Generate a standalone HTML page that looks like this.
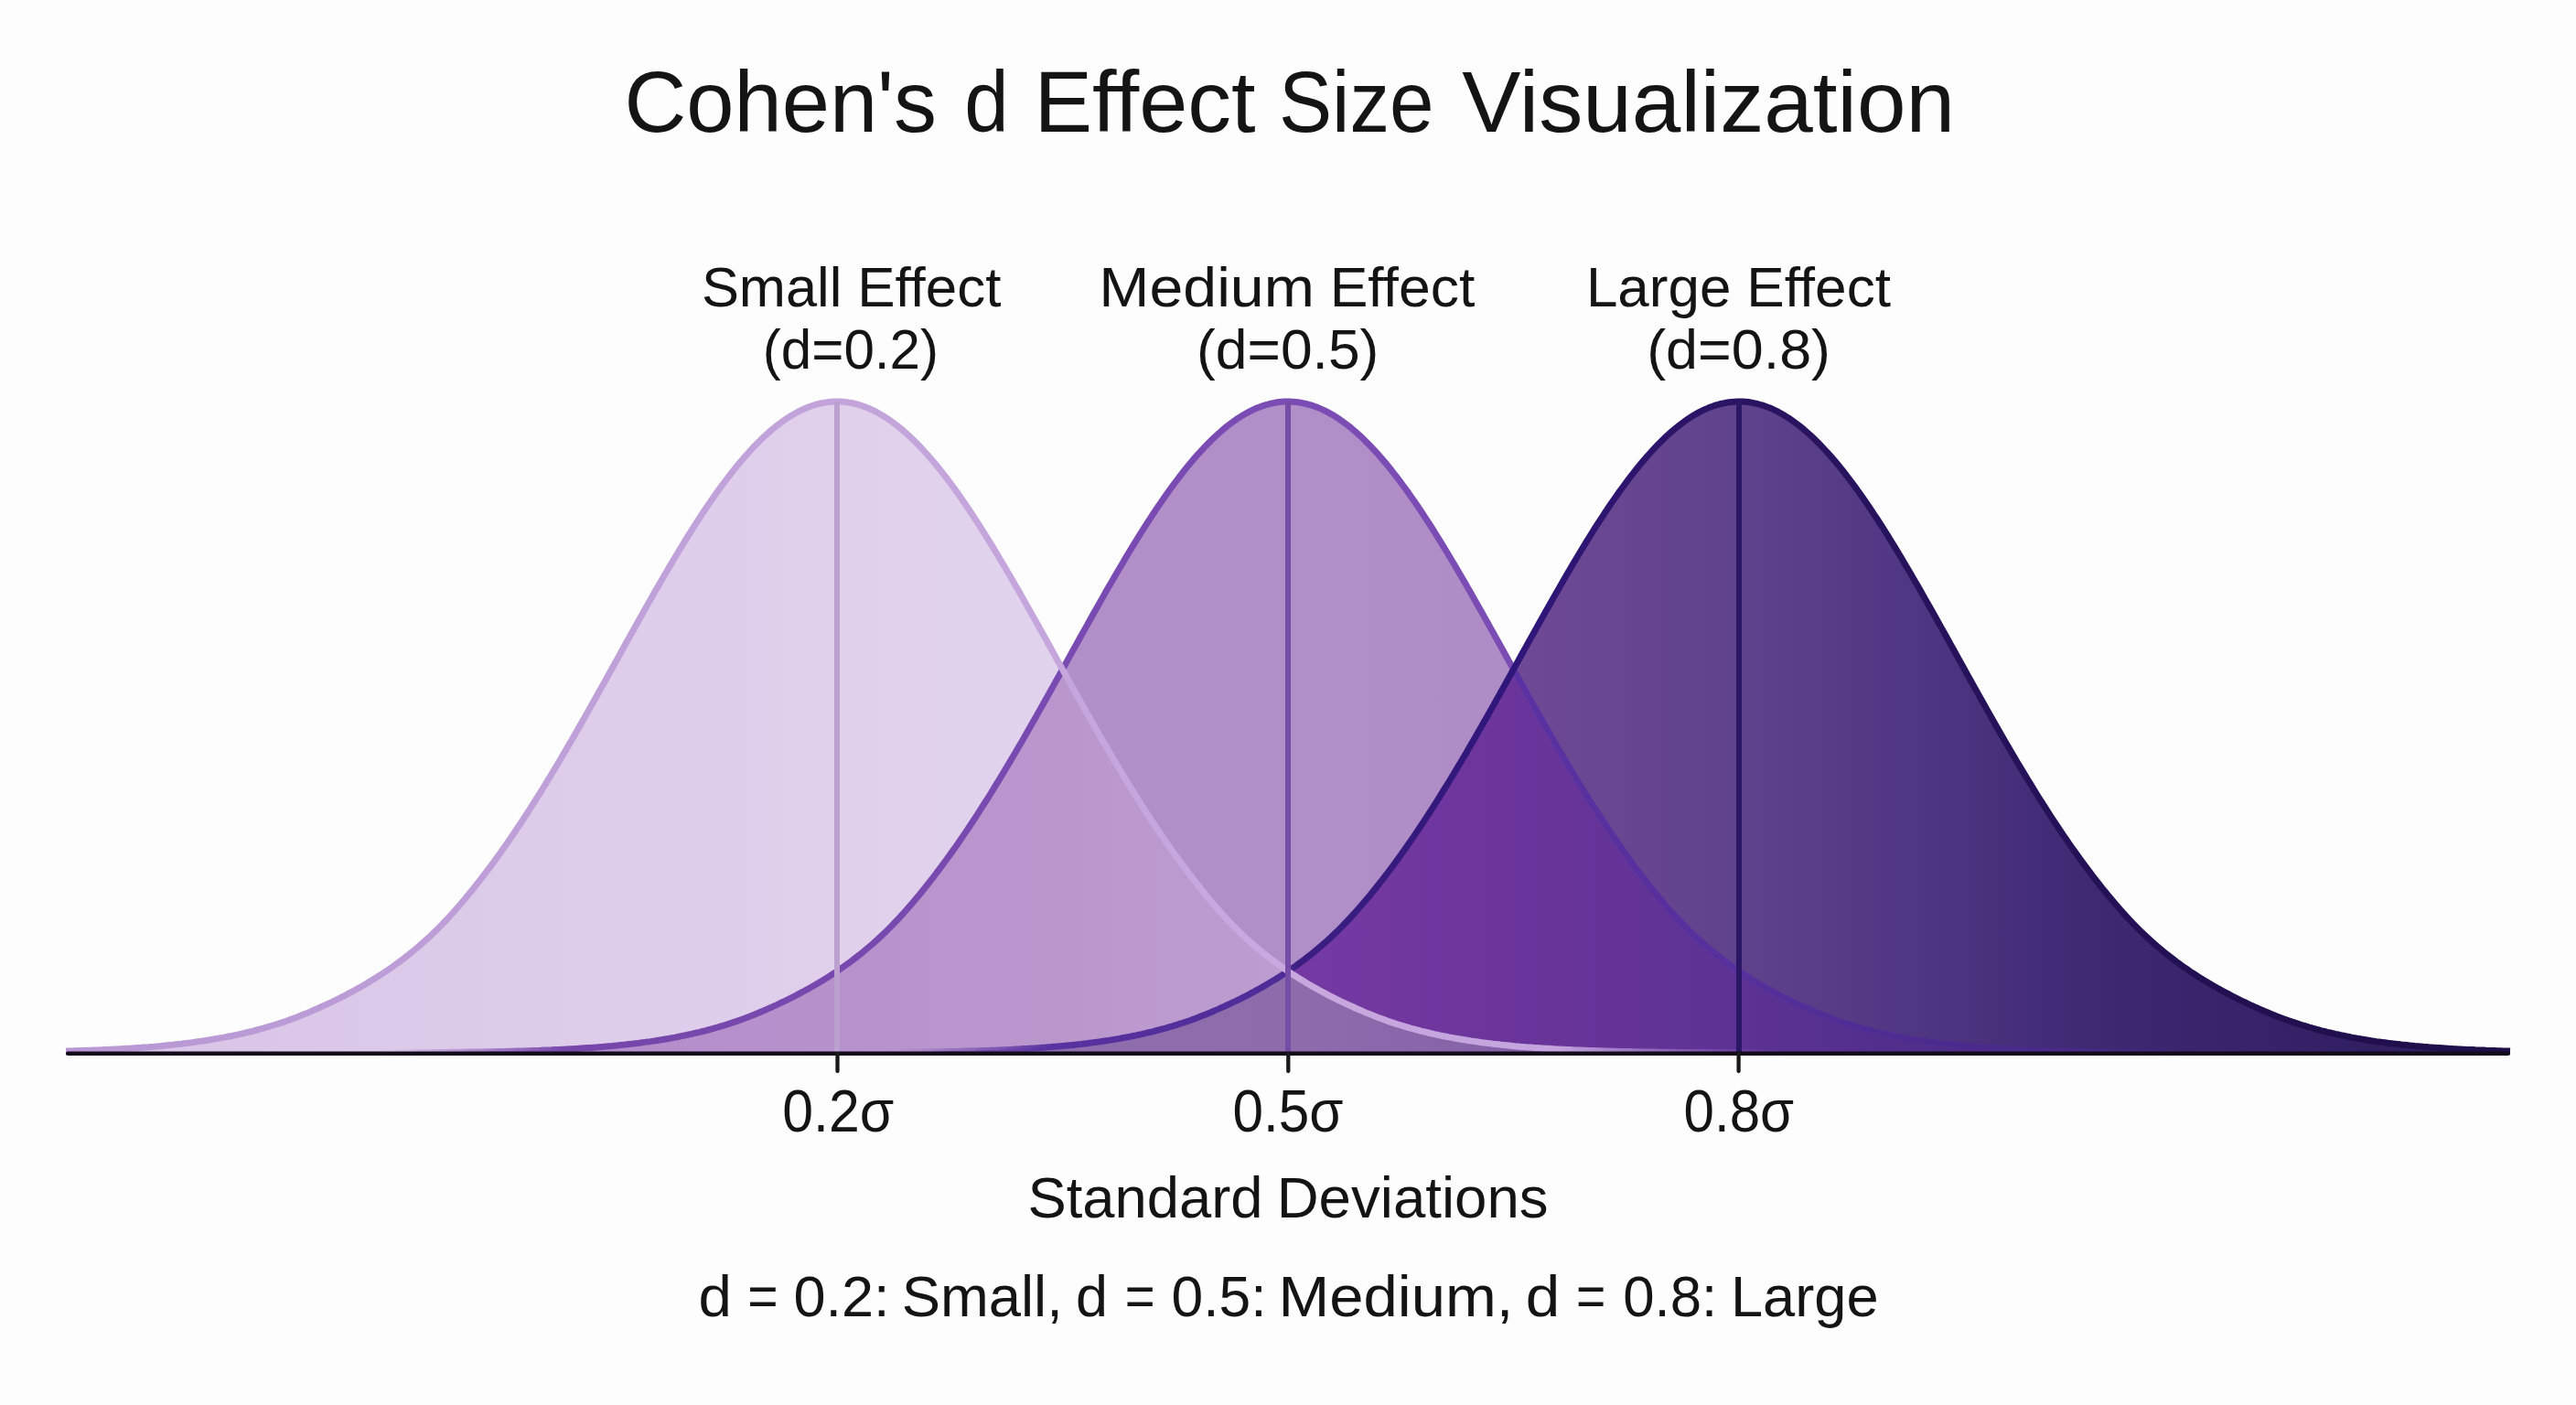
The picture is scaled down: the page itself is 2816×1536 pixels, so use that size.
<!DOCTYPE html>
<html><head><meta charset="utf-8"><title>Cohen's d Effect Size Visualization</title>
<style>html,body{margin:0;padding:0;background:#fdfdfd;overflow:hidden;}svg{display:block;}</style></head>
<body>
<svg width="2816" height="1536" viewBox="0 0 2816 1536">
<defs>
<path id="aS" d="M72.0,1149.1 75.0,1149.0 78.0,1148.9 81.0,1148.8 84.0,1148.7 87.0,1148.6 90.0,1148.5 93.0,1148.4 96.0,1148.3 99.0,1148.2 102.0,1148.1 105.0,1148.0 108.0,1147.9 111.0,1147.7 114.0,1147.6 117.0,1147.5 120.0,1147.3 123.0,1147.2 126.0,1147.0 129.0,1146.9 132.0,1146.7 135.0,1146.5 138.0,1146.3 141.0,1146.2 144.0,1146.0 147.0,1145.8 150.0,1145.6 153.0,1145.4 156.0,1145.1 159.0,1144.9 162.0,1144.7 165.0,1144.4 168.0,1144.2 171.0,1143.9 174.0,1143.7 177.0,1143.4 180.0,1143.1 183.0,1142.8 186.0,1142.5 189.0,1142.2 192.0,1141.8 195.0,1141.5 198.0,1141.2 201.0,1140.8 204.0,1140.4 207.0,1140.1 210.0,1139.7 213.0,1139.3 216.0,1138.8 219.0,1138.4 222.0,1138.0 225.0,1137.5 228.0,1137.0 231.0,1136.5 234.0,1136.0 237.0,1135.5 240.0,1135.0 243.0,1134.4 246.0,1133.9 249.0,1133.3 252.0,1132.7 255.0,1132.1 258.0,1131.5 261.0,1130.8 264.0,1130.1 267.0,1129.5 270.0,1128.7 273.0,1128.0 276.0,1127.3 279.0,1126.5 282.0,1125.7 285.0,1124.9 288.0,1124.1 291.0,1123.2 294.0,1122.3 297.0,1121.4 300.0,1120.5 303.0,1119.6 306.0,1118.6 309.0,1117.6 312.0,1116.6 315.0,1115.5 318.0,1114.4 321.0,1113.3 324.0,1112.2 327.0,1111.0 330.0,1109.8 333.0,1108.6 336.0,1107.4 339.0,1106.1 342.0,1104.8 345.0,1103.5 348.0,1102.2 351.0,1100.8 354.0,1099.5 357.0,1098.1 360.0,1096.7 363.0,1095.3 366.0,1093.8 369.0,1092.3 372.0,1090.8 375.0,1089.3 378.0,1087.8 381.0,1086.2 384.0,1084.6 387.0,1083.0 390.0,1081.3 393.0,1079.7 396.0,1077.9 399.0,1076.2 402.0,1074.4 405.0,1072.6 408.0,1070.8 411.0,1068.9 414.0,1067.0 417.0,1065.1 420.0,1063.1 423.0,1061.1 426.0,1059.1 429.0,1057.0 432.0,1054.8 435.0,1052.6 438.0,1050.4 441.0,1048.2 444.0,1045.8 447.0,1043.5 450.0,1041.1 453.0,1038.6 456.0,1036.1 459.0,1033.5 462.0,1030.9 465.0,1028.2 468.0,1025.5 471.0,1022.7 474.0,1019.8 477.0,1016.9 480.0,1013.9 483.0,1010.9 486.0,1007.8 489.0,1004.6 492.0,1001.3 495.0,998.0 498.0,994.6 501.0,991.2 504.0,987.7 507.0,984.2 510.0,980.6 513.0,976.9 516.0,973.3 519.0,969.5 522.0,965.7 525.0,961.9 528.0,958.0 531.0,954.1 534.0,950.1 537.0,946.1 540.0,942.0 543.0,937.9 546.0,933.7 549.0,929.5 552.0,925.2 555.0,920.9 558.0,916.6 561.0,912.2 564.0,907.7 567.0,903.2 570.0,898.7 573.0,894.1 576.0,889.5 579.0,884.9 582.0,880.2 585.0,875.4 588.0,870.7 591.0,865.8 594.0,861.0 597.0,856.1 600.0,851.2 603.0,846.2 606.0,841.2 609.0,836.2 612.0,831.2 615.0,826.1 618.0,821.0 621.0,815.8 624.0,810.7 627.0,805.5 630.0,800.3 633.0,795.0 636.0,789.8 639.0,784.5 642.0,779.2 645.0,773.9 648.0,768.5 651.0,763.2 654.0,757.8 657.0,752.4 660.0,747.1 663.0,741.7 666.0,736.3 669.0,730.9 672.0,725.5 675.0,720.1 678.0,714.6 681.0,709.2 684.0,703.8 687.0,698.4 690.0,693.0 693.0,687.7 696.0,682.3 699.0,676.9 702.0,671.6 705.0,666.2 708.0,660.9 711.0,655.6 714.0,650.3 717.0,645.1 720.0,639.9 723.0,634.7 726.0,629.5 729.0,624.4 732.0,619.3 735.0,614.2 738.0,609.2 741.0,604.2 744.0,599.2 747.0,594.3 750.0,589.4 753.0,584.6 756.0,579.8 759.0,575.1 762.0,570.4 765.0,565.8 768.0,561.2 771.0,556.7 774.0,552.3 777.0,547.9 780.0,543.6 783.0,539.3 786.0,535.1 789.0,531.0 792.0,527.0 795.0,523.0 798.0,519.1 801.0,515.3 804.0,511.5 807.0,507.8 810.0,504.2 813.0,500.7 816.0,497.3 819.0,494.0 822.0,490.7 825.0,487.5 828.0,484.5 831.0,481.5 834.0,478.6 837.0,475.8 840.0,473.1 843.0,470.5 846.0,467.9 849.0,465.5 852.0,463.2 855.0,461.0 858.0,458.9 861.0,456.9 864.0,455.0 867.0,453.2 870.0,451.5 873.0,449.9 876.0,448.4 879.0,447.0 882.0,445.7 885.0,444.6 888.0,443.5 891.0,442.6 894.0,441.7 897.0,441.0 900.0,440.4 903.0,439.9 906.0,439.5 909.0,439.2 912.0,439.1 915.0,439.0 918.0,439.1 921.0,439.2 924.0,439.5 927.0,439.9 930.0,440.4 933.0,441.0 936.0,441.7 939.0,442.6 942.0,443.5 945.0,444.6 948.0,445.7 951.0,447.0 954.0,448.4 957.0,449.9 960.0,451.5 963.0,453.2 966.0,455.0 969.0,456.9 972.0,458.9 975.0,461.0 978.0,463.2 981.0,465.5 984.0,467.9 987.0,470.5 990.0,473.1 993.0,475.8 996.0,478.6 999.0,481.5 1002.0,484.5 1005.0,487.5 1008.0,490.7 1011.0,494.0 1014.0,497.3 1017.0,500.7 1020.0,504.2 1023.0,507.8 1026.0,511.5 1029.0,515.3 1032.0,519.1 1035.0,523.0 1038.0,527.0 1041.0,531.0 1044.0,535.1 1047.0,539.3 1050.0,543.6 1053.0,547.9 1056.0,552.3 1059.0,556.7 1062.0,561.2 1065.0,565.8 1068.0,570.4 1071.0,575.1 1074.0,579.8 1077.0,584.6 1080.0,589.4 1083.0,594.3 1086.0,599.2 1089.0,604.2 1092.0,609.2 1095.0,614.2 1098.0,619.3 1101.0,624.4 1104.0,629.5 1107.0,634.7 1110.0,639.9 1113.0,645.1 1116.0,650.3 1119.0,655.6 1122.0,660.9 1125.0,666.2 1128.0,671.6 1131.0,676.9 1134.0,682.3 1137.0,687.7 1140.0,693.0 1143.0,698.4 1146.0,703.8 1149.0,709.2 1152.0,714.6 1155.0,720.1 1158.0,725.5 1161.0,730.9 1164.0,736.3 1167.0,741.7 1170.0,747.1 1173.0,752.4 1176.0,757.8 1179.0,763.2 1182.0,768.5 1185.0,773.9 1188.0,779.2 1191.0,784.5 1194.0,789.8 1197.0,795.0 1200.0,800.3 1203.0,805.5 1206.0,810.7 1209.0,815.8 1212.0,821.0 1215.0,826.1 1218.0,831.2 1221.0,836.2 1224.0,841.2 1227.0,846.2 1230.0,851.2 1233.0,856.1 1236.0,861.0 1239.0,865.8 1242.0,870.7 1245.0,875.4 1248.0,880.2 1251.0,884.9 1254.0,889.5 1257.0,894.1 1260.0,898.7 1263.0,903.2 1266.0,907.7 1269.0,912.2 1272.0,916.6 1275.0,920.9 1278.0,925.2 1281.0,929.5 1284.0,933.7 1287.0,937.9 1290.0,942.0 1293.0,946.1 1296.0,950.1 1299.0,954.1 1302.0,958.0 1305.0,961.9 1308.0,965.7 1311.0,969.5 1314.0,973.3 1317.0,976.9 1320.0,980.6 1323.0,984.2 1326.0,987.7 1329.0,991.2 1332.0,994.6 1335.0,998.0 1338.0,1001.3 1341.0,1004.6 1344.0,1007.8 1347.0,1010.9 1350.0,1013.9 1353.0,1016.9 1356.0,1019.8 1359.0,1022.7 1362.0,1025.5 1365.0,1028.2 1368.0,1030.9 1371.0,1033.5 1374.0,1036.1 1377.0,1038.6 1380.0,1041.1 1383.0,1043.5 1386.0,1045.8 1389.0,1048.2 1392.0,1050.4 1395.0,1052.6 1398.0,1054.8 1401.0,1057.0 1404.0,1059.1 1407.0,1061.1 1410.0,1063.1 1413.0,1065.1 1416.0,1067.0 1419.0,1068.9 1422.0,1070.8 1425.0,1072.6 1428.0,1074.4 1431.0,1076.2 1434.0,1077.9 1437.0,1079.7 1440.0,1081.3 1443.0,1083.0 1446.0,1084.6 1449.0,1086.2 1452.0,1087.8 1455.0,1089.3 1458.0,1090.8 1461.0,1092.3 1464.0,1093.8 1467.0,1095.3 1470.0,1096.7 1473.0,1098.1 1476.0,1099.5 1479.0,1100.8 1482.0,1102.2 1485.0,1103.5 1488.0,1104.8 1491.0,1106.1 1494.0,1107.4 1497.0,1108.6 1500.0,1109.8 1503.0,1111.0 1506.0,1112.2 1509.0,1113.3 1512.0,1114.4 1515.0,1115.5 1518.0,1116.6 1521.0,1117.6 1524.0,1118.6 1527.0,1119.6 1530.0,1120.5 1533.0,1121.4 1536.0,1122.3 1539.0,1123.2 1542.0,1124.1 1545.0,1124.9 1548.0,1125.7 1551.0,1126.5 1554.0,1127.3 1557.0,1128.0 1560.0,1128.7 1563.0,1129.5 1566.0,1130.1 1569.0,1130.8 1572.0,1131.5 1575.0,1132.1 1578.0,1132.7 1581.0,1133.3 1584.0,1133.9 1587.0,1134.4 1590.0,1135.0 1593.0,1135.5 1596.0,1136.0 1599.0,1136.5 1602.0,1137.0 1605.0,1137.5 1608.0,1138.0 1611.0,1138.4 1614.0,1138.8 1617.0,1139.3 1620.0,1139.7 1623.0,1140.1 1626.0,1140.4 1629.0,1140.8 1632.0,1141.2 1635.0,1141.5 1638.0,1141.8 1641.0,1142.2 1644.0,1142.5 1647.0,1142.8 1650.0,1143.1 1653.0,1143.4 1656.0,1143.7 1659.0,1143.9 1662.0,1144.2 1665.0,1144.4 1668.0,1144.7 1671.0,1144.9 1674.0,1145.1 1677.0,1145.4 1680.0,1145.6 1683.0,1145.8 1686.0,1146.0 1689.0,1146.2 1692.0,1146.3 1695.0,1146.5 1698.0,1146.7 1701.0,1146.9 1704.0,1147.0 1707.0,1147.2 1710.0,1147.3 1713.0,1147.5 1716.0,1147.6 1719.0,1147.7 1722.0,1147.9 1725.0,1148.0 1728.0,1148.1 1731.0,1148.2 1734.0,1148.3 1737.0,1148.4 1740.0,1148.5 1743.0,1148.6 1746.0,1148.7 1749.0,1148.8 1752.0,1148.9 1755.0,1149.0 1758.0,1149.1 1761.0,1149.2 1764.0,1149.2 1767.0,1149.3 1770.0,1149.4 1773.0,1149.5 1776.0,1149.5 1779.0,1149.6 1782.0,1149.6 1785.0,1149.7 1788.0,1149.8 1791.0,1149.8 1794.0,1149.9 1797.0,1149.9 1800.0,1150.0 1803.0,1150.0 1806.0,1150.0 1809.0,1150.1 1812.0,1150.1 1815.0,1150.2 1818.0,1150.2 1821.0,1150.2 1824.0,1150.3 1827.0,1150.3 1830.0,1150.3 1833.0,1150.4 1836.0,1150.4 1839.0,1150.4 1842.0,1150.4 1845.0,1150.5 1848.0,1150.5 1851.0,1150.5 1854.0,1150.5 1857.0,1150.6 1860.0,1150.6 1863.0,1150.6 1866.0,1150.6 1869.0,1150.6 1872.0,1150.7 1875.0,1150.7 1878.0,1150.7 1881.0,1150.7 1884.0,1150.7 1887.0,1150.7 1890.0,1150.7 1893.0,1150.8 1896.0,1150.8 1899.0,1150.8 1902.0,1150.8 1905.0,1150.8 1908.0,1150.8 1911.0,1150.8 1914.0,1150.8 1917.0,1150.8 1920.0,1150.8 1923.0,1150.8 1926.0,1150.9 1929.0,1150.9 1932.0,1150.9 1935.0,1150.9 1938.0,1150.9 1941.0,1150.9 1944.0,1150.9 1947.0,1150.9 1950.0,1150.9 1953.0,1150.9 1956.0,1150.9 1959.0,1150.9 1962.0,1150.9 1965.0,1150.9 1968.0,1150.9 1971.0,1150.9 1974.0,1150.9 1977.0,1150.9 1980.0,1150.9 1983.0,1150.9 1986.0,1150.9 1989.0,1151.0 1992.0,1151.0 1995.0,1151.0 1998.0,1151.0 2001.0,1151.0 2004.0,1151.0 2007.0,1151.0 2010.0,1151.0 2013.0,1151.0 2016.0,1151.0 2019.0,1151.0 2022.0,1151.0 2025.0,1151.0 2028.0,1151.0 2031.0,1151.0 2034.0,1151.0 2037.0,1151.0 2040.0,1151.0 2043.0,1151.0 2046.0,1151.0 2049.0,1151.0 2052.0,1151.0 2055.0,1151.0 2058.0,1151.0 2061.0,1151.0 2064.0,1151.0 2067.0,1151.0 2070.0,1151.0 2073.0,1151.0 2076.0,1151.0 2079.0,1151.0 2082.0,1151.0 2085.0,1151.0 2088.0,1151.0 2091.0,1151.0 2094.0,1151.0 2097.0,1151.0 2100.0,1151.0 2103.0,1151.0 2106.0,1151.0 2109.0,1151.0 2112.0,1151.0 2115.0,1151.0 2118.0,1151.0 2121.0,1151.0 2124.0,1151.0 2127.0,1151.0 2130.0,1151.0 2133.0,1151.0 2136.0,1151.0 2139.0,1151.0 2142.0,1151.0 2145.0,1151.0 2148.0,1151.0 2151.0,1151.0 2154.0,1151.0 2157.0,1151.0 2160.0,1151.0 2163.0,1151.0 2166.0,1151.0 2169.0,1151.0 2172.0,1151.0 2175.0,1151.0 2178.0,1151.0 2181.0,1151.0 2184.0,1151.0 2187.0,1151.0 2190.0,1151.0 2193.0,1151.0 2196.0,1151.0 2199.0,1151.0 2202.0,1151.0 2205.0,1151.0 2208.0,1151.0 2211.0,1151.0 2214.0,1151.0 2217.0,1151.0 2220.0,1151.0 2223.0,1151.0 2226.0,1151.0 2229.0,1151.0 2232.0,1151.0 2235.0,1151.0 2238.0,1151.0 2241.0,1151.0 2244.0,1151.0 2247.0,1151.0 2250.0,1151.0 2253.0,1151.0 2256.0,1151.0 2259.0,1151.0 2262.0,1151.0 2265.0,1151.0 2268.0,1151.0 2271.0,1151.0 2274.0,1151.0 2277.0,1151.0 2280.0,1151.0 2283.0,1151.0 2286.0,1151.0 2289.0,1151.0 2292.0,1151.0 2295.0,1151.0 2298.0,1151.0 2301.0,1151.0 2304.0,1151.0 2307.0,1151.0 2310.0,1151.0 2313.0,1151.0 2316.0,1151.0 2319.0,1151.0 2322.0,1151.0 2325.0,1151.0 2328.0,1151.0 2331.0,1151.0 2334.0,1151.0 2337.0,1151.0 2340.0,1151.0 2343.0,1151.0 2346.0,1151.0 2349.0,1151.0 2352.0,1151.0 2355.0,1151.0 2358.0,1151.0 2361.0,1151.0 2364.0,1151.0 2367.0,1151.0 2370.0,1151.0 2373.0,1151.0 2376.0,1151.0 2379.0,1151.0 2382.0,1151.0 2385.0,1151.0 2388.0,1151.0 2391.0,1151.0 2394.0,1151.0 2397.0,1151.0 2400.0,1151.0 2403.0,1151.0 2406.0,1151.0 2409.0,1151.0 2412.0,1151.0 2415.0,1151.0 2418.0,1151.0 2421.0,1151.0 2424.0,1151.0 2427.0,1151.0 2430.0,1151.0 2433.0,1151.0 2436.0,1151.0 2439.0,1151.0 2442.0,1151.0 2445.0,1151.0 2448.0,1151.0 2451.0,1151.0 2454.0,1151.0 2457.0,1151.0 2460.0,1151.0 2463.0,1151.0 2466.0,1151.0 2469.0,1151.0 2472.0,1151.0 2475.0,1151.0 2478.0,1151.0 2481.0,1151.0 2484.0,1151.0 2487.0,1151.0 2490.0,1151.0 2493.0,1151.0 2496.0,1151.0 2499.0,1151.0 2502.0,1151.0 2505.0,1151.0 2508.0,1151.0 2511.0,1151.0 2514.0,1151.0 2517.0,1151.0 2520.0,1151.0 2523.0,1151.0 2526.0,1151.0 2529.0,1151.0 2532.0,1151.0 2535.0,1151.0 2538.0,1151.0 2541.0,1151.0 2544.0,1151.0 2547.0,1151.0 2550.0,1151.0 2553.0,1151.0 2556.0,1151.0 2559.0,1151.0 2562.0,1151.0 2565.0,1151.0 2568.0,1151.0 2571.0,1151.0 2574.0,1151.0 2577.0,1151.0 2580.0,1151.0 2583.0,1151.0 2586.0,1151.0 2589.0,1151.0 2592.0,1151.0 2595.0,1151.0 2598.0,1151.0 2601.0,1151.0 2604.0,1151.0 2607.0,1151.0 2610.0,1151.0 2613.0,1151.0 2616.0,1151.0 2619.0,1151.0 2622.0,1151.0 2625.0,1151.0 2628.0,1151.0 2631.0,1151.0 2634.0,1151.0 2637.0,1151.0 2640.0,1151.0 2643.0,1151.0 2646.0,1151.0 2649.0,1151.0 2652.0,1151.0 2655.0,1151.0 2658.0,1151.0 2661.0,1151.0 2664.0,1151.0 2667.0,1151.0 2670.0,1151.0 2673.0,1151.0 2676.0,1151.0 2679.0,1151.0 2682.0,1151.0 2685.0,1151.0 2688.0,1151.0 2691.0,1151.0 2694.0,1151.0 2697.0,1151.0 2700.0,1151.0 2703.0,1151.0 2706.0,1151.0 2709.0,1151.0 2712.0,1151.0 2715.0,1151.0 2718.0,1151.0 2721.0,1151.0 2724.0,1151.0 2727.0,1151.0 2730.0,1151.0 2733.0,1151.0 2736.0,1151.0 2739.0,1151.0 2742.0,1151.0 2744.0,1151.0 L2744.0,1152 L72.0,1152 Z"/>
<path id="lS" d="M72.0,1149.1 75.0,1149.0 78.0,1148.9 81.0,1148.8 84.0,1148.7 87.0,1148.6 90.0,1148.5 93.0,1148.4 96.0,1148.3 99.0,1148.2 102.0,1148.1 105.0,1148.0 108.0,1147.9 111.0,1147.7 114.0,1147.6 117.0,1147.5 120.0,1147.3 123.0,1147.2 126.0,1147.0 129.0,1146.9 132.0,1146.7 135.0,1146.5 138.0,1146.3 141.0,1146.2 144.0,1146.0 147.0,1145.8 150.0,1145.6 153.0,1145.4 156.0,1145.1 159.0,1144.9 162.0,1144.7 165.0,1144.4 168.0,1144.2 171.0,1143.9 174.0,1143.7 177.0,1143.4 180.0,1143.1 183.0,1142.8 186.0,1142.5 189.0,1142.2 192.0,1141.8 195.0,1141.5 198.0,1141.2 201.0,1140.8 204.0,1140.4 207.0,1140.1 210.0,1139.7 213.0,1139.3 216.0,1138.8 219.0,1138.4 222.0,1138.0 225.0,1137.5 228.0,1137.0 231.0,1136.5 234.0,1136.0 237.0,1135.5 240.0,1135.0 243.0,1134.4 246.0,1133.9 249.0,1133.3 252.0,1132.7 255.0,1132.1 258.0,1131.5 261.0,1130.8 264.0,1130.1 267.0,1129.5 270.0,1128.7 273.0,1128.0 276.0,1127.3 279.0,1126.5 282.0,1125.7 285.0,1124.9 288.0,1124.1 291.0,1123.2 294.0,1122.3 297.0,1121.4 300.0,1120.5 303.0,1119.6 306.0,1118.6 309.0,1117.6 312.0,1116.6 315.0,1115.5 318.0,1114.4 321.0,1113.3 324.0,1112.2 327.0,1111.0 330.0,1109.8 333.0,1108.6 336.0,1107.4 339.0,1106.1 342.0,1104.8 345.0,1103.5 348.0,1102.2 351.0,1100.8 354.0,1099.5 357.0,1098.1 360.0,1096.7 363.0,1095.3 366.0,1093.8 369.0,1092.3 372.0,1090.8 375.0,1089.3 378.0,1087.8 381.0,1086.2 384.0,1084.6 387.0,1083.0 390.0,1081.3 393.0,1079.7 396.0,1077.9 399.0,1076.2 402.0,1074.4 405.0,1072.6 408.0,1070.8 411.0,1068.9 414.0,1067.0 417.0,1065.1 420.0,1063.1 423.0,1061.1 426.0,1059.1 429.0,1057.0 432.0,1054.8 435.0,1052.6 438.0,1050.4 441.0,1048.2 444.0,1045.8 447.0,1043.5 450.0,1041.1 453.0,1038.6 456.0,1036.1 459.0,1033.5 462.0,1030.9 465.0,1028.2 468.0,1025.5 471.0,1022.7 474.0,1019.8 477.0,1016.9 480.0,1013.9 483.0,1010.9 486.0,1007.8 489.0,1004.6 492.0,1001.3 495.0,998.0 498.0,994.6 501.0,991.2 504.0,987.7 507.0,984.2 510.0,980.6 513.0,976.9 516.0,973.3 519.0,969.5 522.0,965.7 525.0,961.9 528.0,958.0 531.0,954.1 534.0,950.1 537.0,946.1 540.0,942.0 543.0,937.9 546.0,933.7 549.0,929.5 552.0,925.2 555.0,920.9 558.0,916.6 561.0,912.2 564.0,907.7 567.0,903.2 570.0,898.7 573.0,894.1 576.0,889.5 579.0,884.9 582.0,880.2 585.0,875.4 588.0,870.7 591.0,865.8 594.0,861.0 597.0,856.1 600.0,851.2 603.0,846.2 606.0,841.2 609.0,836.2 612.0,831.2 615.0,826.1 618.0,821.0 621.0,815.8 624.0,810.7 627.0,805.5 630.0,800.3 633.0,795.0 636.0,789.8 639.0,784.5 642.0,779.2 645.0,773.9 648.0,768.5 651.0,763.2 654.0,757.8 657.0,752.4 660.0,747.1 663.0,741.7 666.0,736.3 669.0,730.9 672.0,725.5 675.0,720.1 678.0,714.6 681.0,709.2 684.0,703.8 687.0,698.4 690.0,693.0 693.0,687.7 696.0,682.3 699.0,676.9 702.0,671.6 705.0,666.2 708.0,660.9 711.0,655.6 714.0,650.3 717.0,645.1 720.0,639.9 723.0,634.7 726.0,629.5 729.0,624.4 732.0,619.3 735.0,614.2 738.0,609.2 741.0,604.2 744.0,599.2 747.0,594.3 750.0,589.4 753.0,584.6 756.0,579.8 759.0,575.1 762.0,570.4 765.0,565.8 768.0,561.2 771.0,556.7 774.0,552.3 777.0,547.9 780.0,543.6 783.0,539.3 786.0,535.1 789.0,531.0 792.0,527.0 795.0,523.0 798.0,519.1 801.0,515.3 804.0,511.5 807.0,507.8 810.0,504.2 813.0,500.7 816.0,497.3 819.0,494.0 822.0,490.7 825.0,487.5 828.0,484.5 831.0,481.5 834.0,478.6 837.0,475.8 840.0,473.1 843.0,470.5 846.0,467.9 849.0,465.5 852.0,463.2 855.0,461.0 858.0,458.9 861.0,456.9 864.0,455.0 867.0,453.2 870.0,451.5 873.0,449.9 876.0,448.4 879.0,447.0 882.0,445.7 885.0,444.6 888.0,443.5 891.0,442.6 894.0,441.7 897.0,441.0 900.0,440.4 903.0,439.9 906.0,439.5 909.0,439.2 912.0,439.1 915.0,439.0 918.0,439.1 921.0,439.2 924.0,439.5 927.0,439.9 930.0,440.4 933.0,441.0 936.0,441.7 939.0,442.6 942.0,443.5 945.0,444.6 948.0,445.7 951.0,447.0 954.0,448.4 957.0,449.9 960.0,451.5 963.0,453.2 966.0,455.0 969.0,456.9 972.0,458.9 975.0,461.0 978.0,463.2 981.0,465.5 984.0,467.9 987.0,470.5 990.0,473.1 993.0,475.8 996.0,478.6 999.0,481.5 1002.0,484.5 1005.0,487.5 1008.0,490.7 1011.0,494.0 1014.0,497.3 1017.0,500.7 1020.0,504.2 1023.0,507.8 1026.0,511.5 1029.0,515.3 1032.0,519.1 1035.0,523.0 1038.0,527.0 1041.0,531.0 1044.0,535.1 1047.0,539.3 1050.0,543.6 1053.0,547.9 1056.0,552.3 1059.0,556.7 1062.0,561.2 1065.0,565.8 1068.0,570.4 1071.0,575.1 1074.0,579.8 1077.0,584.6 1080.0,589.4 1083.0,594.3 1086.0,599.2 1089.0,604.2 1092.0,609.2 1095.0,614.2 1098.0,619.3 1101.0,624.4 1104.0,629.5 1107.0,634.7 1110.0,639.9 1113.0,645.1 1116.0,650.3 1119.0,655.6 1122.0,660.9 1125.0,666.2 1128.0,671.6 1131.0,676.9 1134.0,682.3 1137.0,687.7 1140.0,693.0 1143.0,698.4 1146.0,703.8 1149.0,709.2 1152.0,714.6 1155.0,720.1 1158.0,725.5 1161.0,730.9 1164.0,736.3 1167.0,741.7 1170.0,747.1 1173.0,752.4 1176.0,757.8 1179.0,763.2 1182.0,768.5 1185.0,773.9 1188.0,779.2 1191.0,784.5 1194.0,789.8 1197.0,795.0 1200.0,800.3 1203.0,805.5 1206.0,810.7 1209.0,815.8 1212.0,821.0 1215.0,826.1 1218.0,831.2 1221.0,836.2 1224.0,841.2 1227.0,846.2 1230.0,851.2 1233.0,856.1 1236.0,861.0 1239.0,865.8 1242.0,870.7 1245.0,875.4 1248.0,880.2 1251.0,884.9 1254.0,889.5 1257.0,894.1 1260.0,898.7 1263.0,903.2 1266.0,907.7 1269.0,912.2 1272.0,916.6 1275.0,920.9 1278.0,925.2 1281.0,929.5 1284.0,933.7 1287.0,937.9 1290.0,942.0 1293.0,946.1 1296.0,950.1 1299.0,954.1 1302.0,958.0 1305.0,961.9 1308.0,965.7 1311.0,969.5 1314.0,973.3 1317.0,976.9 1320.0,980.6 1323.0,984.2 1326.0,987.7 1329.0,991.2 1332.0,994.6 1335.0,998.0 1338.0,1001.3 1341.0,1004.6 1344.0,1007.8 1347.0,1010.9 1350.0,1013.9 1353.0,1016.9 1356.0,1019.8 1359.0,1022.7 1362.0,1025.5 1365.0,1028.2 1368.0,1030.9 1371.0,1033.5 1374.0,1036.1 1377.0,1038.6 1380.0,1041.1 1383.0,1043.5 1386.0,1045.8 1389.0,1048.2 1392.0,1050.4 1395.0,1052.6 1398.0,1054.8 1401.0,1057.0 1404.0,1059.1 1407.0,1061.1 1410.0,1063.1 1413.0,1065.1 1416.0,1067.0 1419.0,1068.9 1422.0,1070.8 1425.0,1072.6 1428.0,1074.4 1431.0,1076.2 1434.0,1077.9 1437.0,1079.7 1440.0,1081.3 1443.0,1083.0 1446.0,1084.6 1449.0,1086.2 1452.0,1087.8 1455.0,1089.3 1458.0,1090.8 1461.0,1092.3 1464.0,1093.8 1467.0,1095.3 1470.0,1096.7 1473.0,1098.1 1476.0,1099.5 1479.0,1100.8 1482.0,1102.2 1485.0,1103.5 1488.0,1104.8 1491.0,1106.1 1494.0,1107.4 1497.0,1108.6 1500.0,1109.8 1503.0,1111.0 1506.0,1112.2 1509.0,1113.3 1512.0,1114.4 1515.0,1115.5 1518.0,1116.6 1521.0,1117.6 1524.0,1118.6 1527.0,1119.6 1530.0,1120.5 1533.0,1121.4 1536.0,1122.3 1539.0,1123.2 1542.0,1124.1 1545.0,1124.9 1548.0,1125.7 1551.0,1126.5 1554.0,1127.3 1557.0,1128.0 1560.0,1128.7 1563.0,1129.5 1566.0,1130.1 1569.0,1130.8 1572.0,1131.5 1575.0,1132.1 1578.0,1132.7 1581.0,1133.3 1584.0,1133.9 1587.0,1134.4 1590.0,1135.0 1593.0,1135.5 1596.0,1136.0 1599.0,1136.5 1602.0,1137.0 1605.0,1137.5 1608.0,1138.0 1611.0,1138.4 1614.0,1138.8 1617.0,1139.3 1620.0,1139.7 1623.0,1140.1 1626.0,1140.4 1629.0,1140.8 1632.0,1141.2 1635.0,1141.5 1638.0,1141.8 1641.0,1142.2 1644.0,1142.5 1647.0,1142.8 1650.0,1143.1 1653.0,1143.4 1656.0,1143.7 1659.0,1143.9 1662.0,1144.2 1665.0,1144.4 1668.0,1144.7 1671.0,1144.9 1674.0,1145.1 1677.0,1145.4 1680.0,1145.6 1683.0,1145.8 1686.0,1146.0 1689.0,1146.2 1692.0,1146.3 1695.0,1146.5 1698.0,1146.7 1701.0,1146.9 1704.0,1147.0 1707.0,1147.2 1710.0,1147.3 1713.0,1147.5 1716.0,1147.6 1719.0,1147.7 1722.0,1147.9 1725.0,1148.0 1728.0,1148.1 1731.0,1148.2 1734.0,1148.3 1737.0,1148.4 1740.0,1148.5 1743.0,1148.6 1746.0,1148.7 1749.0,1148.8 1752.0,1148.9 1755.0,1149.0 1758.0,1149.1 1761.0,1149.2 1764.0,1149.2 1767.0,1149.3 1770.0,1149.4 1773.0,1149.5 1776.0,1149.5 1779.0,1149.6 1782.0,1149.6 1785.0,1149.7 1788.0,1149.8 1791.0,1149.8 1794.0,1149.9 1797.0,1149.9 1800.0,1150.0 1803.0,1150.0 1806.0,1150.0 1809.0,1150.1 1812.0,1150.1 1815.0,1150.2 1818.0,1150.2 1821.0,1150.2 1824.0,1150.3 1827.0,1150.3 1830.0,1150.3 1833.0,1150.4 1836.0,1150.4 1839.0,1150.4 1842.0,1150.4 1845.0,1150.5 1848.0,1150.5 1851.0,1150.5 1854.0,1150.5 1857.0,1150.6 1860.0,1150.6 1863.0,1150.6 1866.0,1150.6 1869.0,1150.6 1872.0,1150.7 1875.0,1150.7 1878.0,1150.7 1881.0,1150.7 1884.0,1150.7 1887.0,1150.7 1890.0,1150.7 1893.0,1150.8 1896.0,1150.8 1899.0,1150.8 1902.0,1150.8 1905.0,1150.8 1908.0,1150.8 1911.0,1150.8 1914.0,1150.8 1917.0,1150.8 1920.0,1150.8 1923.0,1150.8 1926.0,1150.9 1929.0,1150.9 1932.0,1150.9 1935.0,1150.9 1938.0,1150.9 1941.0,1150.9 1944.0,1150.9 1947.0,1150.9 1950.0,1150.9 1953.0,1150.9 1956.0,1150.9 1959.0,1150.9 1962.0,1150.9 1965.0,1150.9 1968.0,1150.9 1971.0,1150.9 1974.0,1150.9 1977.0,1150.9 1980.0,1150.9 1983.0,1150.9 1986.0,1150.9 1989.0,1151.0 1992.0,1151.0 1995.0,1151.0 1998.0,1151.0 2001.0,1151.0 2004.0,1151.0 2007.0,1151.0 2010.0,1151.0 2013.0,1151.0 2016.0,1151.0 2019.0,1151.0 2022.0,1151.0 2025.0,1151.0 2028.0,1151.0 2031.0,1151.0 2034.0,1151.0 2037.0,1151.0 2040.0,1151.0 2043.0,1151.0 2046.0,1151.0 2049.0,1151.0 2052.0,1151.0 2055.0,1151.0 2058.0,1151.0 2061.0,1151.0 2064.0,1151.0 2067.0,1151.0 2070.0,1151.0 2073.0,1151.0 2076.0,1151.0 2079.0,1151.0 2082.0,1151.0 2085.0,1151.0 2088.0,1151.0 2091.0,1151.0 2094.0,1151.0 2097.0,1151.0 2100.0,1151.0 2103.0,1151.0 2106.0,1151.0 2109.0,1151.0 2112.0,1151.0 2115.0,1151.0 2118.0,1151.0 2121.0,1151.0 2124.0,1151.0 2127.0,1151.0 2130.0,1151.0 2133.0,1151.0 2136.0,1151.0 2139.0,1151.0 2142.0,1151.0 2145.0,1151.0 2148.0,1151.0 2151.0,1151.0 2154.0,1151.0 2157.0,1151.0 2160.0,1151.0 2163.0,1151.0 2166.0,1151.0 2169.0,1151.0 2172.0,1151.0 2175.0,1151.0 2178.0,1151.0 2181.0,1151.0 2184.0,1151.0 2187.0,1151.0 2190.0,1151.0 2193.0,1151.0 2196.0,1151.0 2199.0,1151.0 2202.0,1151.0 2205.0,1151.0 2208.0,1151.0 2211.0,1151.0 2214.0,1151.0 2217.0,1151.0 2220.0,1151.0 2223.0,1151.0 2226.0,1151.0 2229.0,1151.0 2232.0,1151.0 2235.0,1151.0 2238.0,1151.0 2241.0,1151.0 2244.0,1151.0 2247.0,1151.0 2250.0,1151.0 2253.0,1151.0 2256.0,1151.0 2259.0,1151.0 2262.0,1151.0 2265.0,1151.0 2268.0,1151.0 2271.0,1151.0 2274.0,1151.0 2277.0,1151.0 2280.0,1151.0 2283.0,1151.0 2286.0,1151.0 2289.0,1151.0 2292.0,1151.0 2295.0,1151.0 2298.0,1151.0 2301.0,1151.0 2304.0,1151.0 2307.0,1151.0 2310.0,1151.0 2313.0,1151.0 2316.0,1151.0 2319.0,1151.0 2322.0,1151.0 2325.0,1151.0 2328.0,1151.0 2331.0,1151.0 2334.0,1151.0 2337.0,1151.0 2340.0,1151.0 2343.0,1151.0 2346.0,1151.0 2349.0,1151.0 2352.0,1151.0 2355.0,1151.0 2358.0,1151.0 2361.0,1151.0 2364.0,1151.0 2367.0,1151.0 2370.0,1151.0 2373.0,1151.0 2376.0,1151.0 2379.0,1151.0 2382.0,1151.0 2385.0,1151.0 2388.0,1151.0 2391.0,1151.0 2394.0,1151.0 2397.0,1151.0 2400.0,1151.0 2403.0,1151.0 2406.0,1151.0 2409.0,1151.0 2412.0,1151.0 2415.0,1151.0 2418.0,1151.0 2421.0,1151.0 2424.0,1151.0 2427.0,1151.0 2430.0,1151.0 2433.0,1151.0 2436.0,1151.0 2439.0,1151.0 2442.0,1151.0 2445.0,1151.0 2448.0,1151.0 2451.0,1151.0 2454.0,1151.0 2457.0,1151.0 2460.0,1151.0 2463.0,1151.0 2466.0,1151.0 2469.0,1151.0 2472.0,1151.0 2475.0,1151.0 2478.0,1151.0 2481.0,1151.0 2484.0,1151.0 2487.0,1151.0 2490.0,1151.0 2493.0,1151.0 2496.0,1151.0 2499.0,1151.0 2502.0,1151.0 2505.0,1151.0 2508.0,1151.0 2511.0,1151.0 2514.0,1151.0 2517.0,1151.0 2520.0,1151.0 2523.0,1151.0 2526.0,1151.0 2529.0,1151.0 2532.0,1151.0 2535.0,1151.0 2538.0,1151.0 2541.0,1151.0 2544.0,1151.0 2547.0,1151.0 2550.0,1151.0 2553.0,1151.0 2556.0,1151.0 2559.0,1151.0 2562.0,1151.0 2565.0,1151.0 2568.0,1151.0 2571.0,1151.0 2574.0,1151.0 2577.0,1151.0 2580.0,1151.0 2583.0,1151.0 2586.0,1151.0 2589.0,1151.0 2592.0,1151.0 2595.0,1151.0 2598.0,1151.0 2601.0,1151.0 2604.0,1151.0 2607.0,1151.0 2610.0,1151.0 2613.0,1151.0 2616.0,1151.0 2619.0,1151.0 2622.0,1151.0 2625.0,1151.0 2628.0,1151.0 2631.0,1151.0 2634.0,1151.0 2637.0,1151.0 2640.0,1151.0 2643.0,1151.0 2646.0,1151.0 2649.0,1151.0 2652.0,1151.0 2655.0,1151.0 2658.0,1151.0 2661.0,1151.0 2664.0,1151.0 2667.0,1151.0 2670.0,1151.0 2673.0,1151.0 2676.0,1151.0 2679.0,1151.0 2682.0,1151.0 2685.0,1151.0 2688.0,1151.0 2691.0,1151.0 2694.0,1151.0 2697.0,1151.0 2700.0,1151.0 2703.0,1151.0 2706.0,1151.0 2709.0,1151.0 2712.0,1151.0 2715.0,1151.0 2718.0,1151.0 2721.0,1151.0 2724.0,1151.0 2727.0,1151.0 2730.0,1151.0 2733.0,1151.0 2736.0,1151.0 2739.0,1151.0 2742.0,1151.0 2744.0,1151.0"/>
<clipPath id="cS"><use href="#aS"/></clipPath>
<path id="aM" d="M72.0,1151.0 75.0,1151.0 78.0,1151.0 81.0,1151.0 84.0,1151.0 87.0,1151.0 90.0,1151.0 93.0,1151.0 96.0,1151.0 99.0,1151.0 102.0,1151.0 105.0,1151.0 108.0,1151.0 111.0,1151.0 114.0,1151.0 117.0,1151.0 120.0,1151.0 123.0,1151.0 126.0,1151.0 129.0,1151.0 132.0,1151.0 135.0,1151.0 138.0,1151.0 141.0,1151.0 144.0,1151.0 147.0,1151.0 150.0,1151.0 153.0,1151.0 156.0,1151.0 159.0,1151.0 162.0,1151.0 165.0,1151.0 168.0,1151.0 171.0,1151.0 174.0,1151.0 177.0,1151.0 180.0,1151.0 183.0,1151.0 186.0,1151.0 189.0,1151.0 192.0,1151.0 195.0,1151.0 198.0,1151.0 201.0,1151.0 204.0,1151.0 207.0,1151.0 210.0,1151.0 213.0,1151.0 216.0,1151.0 219.0,1151.0 222.0,1151.0 225.0,1151.0 228.0,1151.0 231.0,1151.0 234.0,1151.0 237.0,1151.0 240.0,1151.0 243.0,1151.0 246.0,1151.0 249.0,1151.0 252.0,1151.0 255.0,1151.0 258.0,1151.0 261.0,1151.0 264.0,1151.0 267.0,1151.0 270.0,1151.0 273.0,1151.0 276.0,1151.0 279.0,1151.0 282.0,1151.0 285.0,1151.0 288.0,1151.0 291.0,1151.0 294.0,1151.0 297.0,1151.0 300.0,1151.0 303.0,1151.0 306.0,1151.0 309.0,1151.0 312.0,1151.0 315.0,1151.0 318.0,1151.0 321.0,1151.0 324.0,1151.0 327.0,1151.0 330.0,1151.0 333.0,1151.0 336.0,1151.0 339.0,1150.9 342.0,1150.9 345.0,1150.9 348.0,1150.9 351.0,1150.9 354.0,1150.9 357.0,1150.9 360.0,1150.9 363.0,1150.9 366.0,1150.9 369.0,1150.9 372.0,1150.9 375.0,1150.9 378.0,1150.9 381.0,1150.9 384.0,1150.9 387.0,1150.9 390.0,1150.9 393.0,1150.9 396.0,1150.9 399.0,1150.9 402.0,1150.8 405.0,1150.8 408.0,1150.8 411.0,1150.8 414.0,1150.8 417.0,1150.8 420.0,1150.8 423.0,1150.8 426.0,1150.8 429.0,1150.8 432.0,1150.7 435.0,1150.7 438.0,1150.7 441.0,1150.7 444.0,1150.7 447.0,1150.7 450.0,1150.7 453.0,1150.6 456.0,1150.6 459.0,1150.6 462.0,1150.6 465.0,1150.6 468.0,1150.5 471.0,1150.5 474.0,1150.5 477.0,1150.5 480.0,1150.5 483.0,1150.4 486.0,1150.4 489.0,1150.4 492.0,1150.3 495.0,1150.3 498.0,1150.3 501.0,1150.2 504.0,1150.2 507.0,1150.2 510.0,1150.1 513.0,1150.1 516.0,1150.1 519.0,1150.0 522.0,1150.0 525.0,1149.9 528.0,1149.9 531.0,1149.8 534.0,1149.8 537.0,1149.7 540.0,1149.7 543.0,1149.6 546.0,1149.5 549.0,1149.5 552.0,1149.4 555.0,1149.3 558.0,1149.3 561.0,1149.2 564.0,1149.1 567.0,1149.0 570.0,1148.9 573.0,1148.9 576.0,1148.8 579.0,1148.7 582.0,1148.6 585.0,1148.5 588.0,1148.4 591.0,1148.3 594.0,1148.1 597.0,1148.0 600.0,1147.9 603.0,1147.8 606.0,1147.6 609.0,1147.5 612.0,1147.4 615.0,1147.2 618.0,1147.1 621.0,1146.9 624.0,1146.7 627.0,1146.6 630.0,1146.4 633.0,1146.2 636.0,1146.0 639.0,1145.8 642.0,1145.6 645.0,1145.4 648.0,1145.2 651.0,1145.0 654.0,1144.8 657.0,1144.5 660.0,1144.3 663.0,1144.0 666.0,1143.7 669.0,1143.5 672.0,1143.2 675.0,1142.9 678.0,1142.6 681.0,1142.3 684.0,1142.0 687.0,1141.6 690.0,1141.3 693.0,1140.9 696.0,1140.6 699.0,1140.2 702.0,1139.8 705.0,1139.4 708.0,1139.0 711.0,1138.6 714.0,1138.1 717.0,1137.7 720.0,1137.2 723.0,1136.7 726.0,1136.2 729.0,1135.7 732.0,1135.2 735.0,1134.6 738.0,1134.1 741.0,1133.5 744.0,1132.9 747.0,1132.3 750.0,1131.7 753.0,1131.0 756.0,1130.4 759.0,1129.7 762.0,1129.0 765.0,1128.3 768.0,1127.5 771.0,1126.8 774.0,1126.0 777.0,1125.2 780.0,1124.3 783.0,1123.5 786.0,1122.6 789.0,1121.7 792.0,1120.8 795.0,1119.9 798.0,1118.9 801.0,1117.9 804.0,1116.9 807.0,1115.9 810.0,1114.8 813.0,1113.7 816.0,1112.6 819.0,1111.4 822.0,1110.2 825.0,1109.0 828.0,1107.8 831.0,1106.5 834.0,1105.3 837.0,1104.0 840.0,1102.6 843.0,1101.3 846.0,1099.9 849.0,1098.6 852.0,1097.2 855.0,1095.7 858.0,1094.3 861.0,1092.8 864.0,1091.3 867.0,1089.8 870.0,1088.3 873.0,1086.7 876.0,1085.1 879.0,1083.5 882.0,1081.9 885.0,1080.2 888.0,1078.5 891.0,1076.8 894.0,1075.0 897.0,1073.2 900.0,1071.4 903.0,1069.6 906.0,1067.7 909.0,1065.7 912.0,1063.8 915.0,1061.8 918.0,1059.7 921.0,1057.7 924.0,1055.5 927.0,1053.4 930.0,1051.2 933.0,1048.9 936.0,1046.6 939.0,1044.3 942.0,1041.9 945.0,1039.4 948.0,1036.9 951.0,1034.4 954.0,1031.8 957.0,1029.1 960.0,1026.4 963.0,1023.6 966.0,1020.8 969.0,1017.9 972.0,1014.9 975.0,1011.9 978.0,1008.8 981.0,1005.6 984.0,1002.4 987.0,999.1 990.0,995.7 993.0,992.3 996.0,988.9 999.0,985.3 1002.0,981.8 1005.0,978.2 1008.0,974.5 1011.0,970.8 1014.0,967.0 1017.0,963.2 1020.0,959.3 1023.0,955.4 1026.0,951.4 1029.0,947.4 1032.0,943.4 1035.0,939.3 1038.0,935.1 1041.0,930.9 1044.0,926.7 1047.0,922.4 1050.0,918.0 1053.0,913.6 1056.0,909.2 1059.0,904.7 1062.0,900.2 1065.0,895.7 1068.0,891.1 1071.0,886.4 1074.0,881.7 1077.0,877.0 1080.0,872.3 1083.0,867.5 1086.0,862.6 1089.0,857.7 1092.0,852.8 1095.0,847.9 1098.0,842.9 1101.0,837.9 1104.0,832.9 1107.0,827.8 1110.0,822.7 1113.0,817.5 1116.0,812.4 1119.0,807.2 1122.0,802.0 1125.0,796.8 1128.0,791.5 1131.0,786.2 1134.0,780.9 1137.0,775.6 1140.0,770.3 1143.0,765.0 1146.0,759.6 1149.0,754.2 1152.0,748.9 1155.0,743.5 1158.0,738.1 1161.0,732.7 1164.0,727.3 1167.0,721.9 1170.0,716.4 1173.0,711.0 1176.0,705.6 1179.0,700.2 1182.0,694.8 1185.0,689.4 1188.0,684.1 1191.0,678.7 1194.0,673.3 1197.0,668.0 1200.0,662.7 1203.0,657.4 1206.0,652.1 1209.0,646.8 1212.0,641.6 1215.0,636.4 1218.0,631.2 1221.0,626.1 1224.0,621.0 1227.0,615.9 1230.0,610.8 1233.0,605.8 1236.0,600.8 1239.0,595.9 1242.0,591.0 1245.0,586.2 1248.0,581.4 1251.0,576.7 1254.0,572.0 1257.0,567.3 1260.0,562.8 1263.0,558.2 1266.0,553.8 1269.0,549.4 1272.0,545.0 1275.0,540.7 1278.0,536.5 1281.0,532.4 1284.0,528.3 1287.0,524.3 1290.0,520.4 1293.0,516.5 1296.0,512.7 1299.0,509.0 1302.0,505.4 1305.0,501.9 1308.0,498.4 1311.0,495.1 1314.0,491.8 1317.0,488.6 1320.0,485.5 1323.0,482.5 1326.0,479.5 1329.0,476.7 1332.0,474.0 1335.0,471.3 1338.0,468.8 1341.0,466.3 1344.0,464.0 1347.0,461.7 1350.0,459.6 1353.0,457.5 1356.0,455.6 1359.0,453.7 1362.0,452.0 1365.0,450.4 1368.0,448.9 1371.0,447.4 1374.0,446.1 1377.0,444.9 1380.0,443.8 1383.0,442.9 1386.0,442.0 1389.0,441.2 1392.0,440.6 1395.0,440.0 1398.0,439.6 1401.0,439.3 1404.0,439.1 1407.0,439.0 1410.0,439.0 1413.0,439.2 1416.0,439.4 1419.0,439.8 1422.0,440.2 1425.0,440.8 1428.0,441.5 1431.0,442.3 1434.0,443.2 1437.0,444.2 1440.0,445.3 1443.0,446.6 1446.0,447.9 1449.0,449.4 1452.0,450.9 1455.0,452.6 1458.0,454.3 1461.0,456.2 1464.0,458.2 1467.0,460.3 1470.0,462.5 1473.0,464.7 1476.0,467.1 1479.0,469.6 1482.0,472.2 1485.0,474.9 1488.0,477.6 1491.0,480.5 1494.0,483.5 1497.0,486.5 1500.0,489.6 1503.0,492.9 1506.0,496.2 1509.0,499.6 1512.0,503.1 1515.0,506.6 1518.0,510.3 1521.0,514.0 1524.0,517.8 1527.0,521.7 1530.0,525.6 1533.0,529.7 1536.0,533.8 1539.0,537.9 1542.0,542.2 1545.0,546.5 1548.0,550.8 1551.0,555.2 1554.0,559.7 1557.0,564.3 1560.0,568.9 1563.0,573.5 1566.0,578.2 1569.0,583.0 1572.0,587.8 1575.0,592.7 1578.0,597.6 1581.0,602.5 1584.0,607.5 1587.0,612.5 1590.0,617.6 1593.0,622.7 1596.0,627.8 1599.0,632.9 1602.0,638.1 1605.0,643.4 1608.0,648.6 1611.0,653.9 1614.0,659.2 1617.0,664.5 1620.0,669.8 1623.0,675.1 1626.0,680.5 1629.0,685.9 1632.0,691.2 1635.0,696.6 1638.0,702.0 1641.0,707.4 1644.0,712.8 1647.0,718.2 1650.0,723.7 1653.0,729.1 1656.0,734.5 1659.0,739.9 1662.0,745.3 1665.0,750.6 1668.0,756.0 1671.0,761.4 1674.0,766.7 1677.0,772.1 1680.0,777.4 1683.0,782.7 1686.0,788.0 1689.0,793.3 1692.0,798.5 1695.0,803.7 1698.0,808.9 1701.0,814.1 1704.0,819.3 1707.0,824.4 1710.0,829.5 1713.0,834.5 1716.0,839.6 1719.0,844.6 1722.0,849.5 1725.0,854.5 1728.0,859.4 1731.0,864.2 1734.0,869.1 1737.0,873.9 1740.0,878.6 1743.0,883.3 1746.0,888.0 1749.0,892.6 1752.0,897.2 1755.0,901.7 1758.0,906.2 1761.0,910.7 1764.0,915.1 1767.0,919.5 1770.0,923.8 1773.0,928.1 1776.0,932.3 1779.0,936.5 1782.0,940.6 1785.0,944.7 1788.0,948.8 1791.0,952.8 1794.0,956.7 1797.0,960.6 1800.0,964.5 1803.0,968.3 1806.0,972.0 1809.0,975.7 1812.0,979.4 1815.0,983.0 1818.0,986.5 1821.0,990.0 1824.0,993.5 1827.0,996.9 1830.0,1000.2 1833.0,1003.5 1836.0,1006.7 1839.0,1009.8 1842.0,1012.9 1845.0,1015.9 1848.0,1018.9 1851.0,1021.7 1854.0,1024.6 1857.0,1027.3 1860.0,1030.0 1863.0,1032.7 1866.0,1035.2 1869.0,1037.8 1872.0,1040.3 1875.0,1042.7 1878.0,1045.1 1881.0,1047.4 1884.0,1049.7 1887.0,1051.9 1890.0,1054.1 1893.0,1056.3 1896.0,1058.4 1899.0,1060.4 1902.0,1062.5 1905.0,1064.4 1908.0,1066.4 1911.0,1068.3 1914.0,1070.2 1917.0,1072.0 1920.0,1073.8 1923.0,1075.6 1926.0,1077.4 1929.0,1079.1 1932.0,1080.8 1935.0,1082.4 1938.0,1084.1 1941.0,1085.7 1944.0,1087.3 1947.0,1088.8 1950.0,1090.3 1953.0,1091.8 1956.0,1093.3 1959.0,1094.8 1962.0,1096.2 1965.0,1097.6 1968.0,1099.0 1971.0,1100.4 1974.0,1101.7 1977.0,1103.1 1980.0,1104.4 1983.0,1105.7 1986.0,1107.0 1989.0,1108.2 1992.0,1109.4 1995.0,1110.6 1998.0,1111.8 2001.0,1113.0 2004.0,1114.1 2007.0,1115.2 2010.0,1116.2 2013.0,1117.2 2016.0,1118.3 2019.0,1119.2 2022.0,1120.2 2025.0,1121.1 2028.0,1122.0 2031.0,1122.9 2034.0,1123.8 2037.0,1124.6 2040.0,1125.4 2043.0,1126.2 2046.0,1127.0 2049.0,1127.8 2052.0,1128.5 2055.0,1129.2 2058.0,1129.9 2061.0,1130.6 2064.0,1131.2 2067.0,1131.9 2070.0,1132.5 2073.0,1133.1 2076.0,1133.7 2079.0,1134.3 2082.0,1134.8 2085.0,1135.4 2088.0,1135.9 2091.0,1136.4 2094.0,1136.9 2097.0,1137.4 2100.0,1137.8 2103.0,1138.3 2106.0,1138.7 2109.0,1139.1 2112.0,1139.5 2115.0,1139.9 2118.0,1140.3 2121.0,1140.7 2124.0,1141.0 2127.0,1141.4 2130.0,1141.7 2133.0,1142.1 2136.0,1142.4 2139.0,1142.7 2142.0,1143.0 2145.0,1143.3 2148.0,1143.6 2151.0,1143.8 2154.0,1144.1 2157.0,1144.3 2160.0,1144.6 2163.0,1144.8 2166.0,1145.1 2169.0,1145.3 2172.0,1145.5 2175.0,1145.7 2178.0,1145.9 2181.0,1146.1 2184.0,1146.3 2187.0,1146.5 2190.0,1146.6 2193.0,1146.8 2196.0,1147.0 2199.0,1147.1 2202.0,1147.3 2205.0,1147.4 2208.0,1147.6 2211.0,1147.7 2214.0,1147.8 2217.0,1147.9 2220.0,1148.1 2223.0,1148.2 2226.0,1148.3 2229.0,1148.4 2232.0,1148.5 2235.0,1148.6 2238.0,1148.7 2241.0,1148.8 2244.0,1148.9 2247.0,1149.0 2250.0,1149.1 2253.0,1149.1 2256.0,1149.2 2259.0,1149.3 2262.0,1149.4 2265.0,1149.4 2268.0,1149.5 2271.0,1149.6 2274.0,1149.6 2277.0,1149.7 2280.0,1149.7 2283.0,1149.8 2286.0,1149.8 2289.0,1149.9 2292.0,1149.9 2295.0,1150.0 2298.0,1150.0 2301.0,1150.1 2304.0,1150.1 2307.0,1150.2 2310.0,1150.2 2313.0,1150.2 2316.0,1150.3 2319.0,1150.3 2322.0,1150.3 2325.0,1150.4 2328.0,1150.4 2331.0,1150.4 2334.0,1150.4 2337.0,1150.5 2340.0,1150.5 2343.0,1150.5 2346.0,1150.5 2349.0,1150.6 2352.0,1150.6 2355.0,1150.6 2358.0,1150.6 2361.0,1150.6 2364.0,1150.6 2367.0,1150.7 2370.0,1150.7 2373.0,1150.7 2376.0,1150.7 2379.0,1150.7 2382.0,1150.7 2385.0,1150.7 2388.0,1150.8 2391.0,1150.8 2394.0,1150.8 2397.0,1150.8 2400.0,1150.8 2403.0,1150.8 2406.0,1150.8 2409.0,1150.8 2412.0,1150.8 2415.0,1150.8 2418.0,1150.9 2421.0,1150.9 2424.0,1150.9 2427.0,1150.9 2430.0,1150.9 2433.0,1150.9 2436.0,1150.9 2439.0,1150.9 2442.0,1150.9 2445.0,1150.9 2448.0,1150.9 2451.0,1150.9 2454.0,1150.9 2457.0,1150.9 2460.0,1150.9 2463.0,1150.9 2466.0,1150.9 2469.0,1150.9 2472.0,1150.9 2475.0,1150.9 2478.0,1150.9 2481.0,1151.0 2484.0,1151.0 2487.0,1151.0 2490.0,1151.0 2493.0,1151.0 2496.0,1151.0 2499.0,1151.0 2502.0,1151.0 2505.0,1151.0 2508.0,1151.0 2511.0,1151.0 2514.0,1151.0 2517.0,1151.0 2520.0,1151.0 2523.0,1151.0 2526.0,1151.0 2529.0,1151.0 2532.0,1151.0 2535.0,1151.0 2538.0,1151.0 2541.0,1151.0 2544.0,1151.0 2547.0,1151.0 2550.0,1151.0 2553.0,1151.0 2556.0,1151.0 2559.0,1151.0 2562.0,1151.0 2565.0,1151.0 2568.0,1151.0 2571.0,1151.0 2574.0,1151.0 2577.0,1151.0 2580.0,1151.0 2583.0,1151.0 2586.0,1151.0 2589.0,1151.0 2592.0,1151.0 2595.0,1151.0 2598.0,1151.0 2601.0,1151.0 2604.0,1151.0 2607.0,1151.0 2610.0,1151.0 2613.0,1151.0 2616.0,1151.0 2619.0,1151.0 2622.0,1151.0 2625.0,1151.0 2628.0,1151.0 2631.0,1151.0 2634.0,1151.0 2637.0,1151.0 2640.0,1151.0 2643.0,1151.0 2646.0,1151.0 2649.0,1151.0 2652.0,1151.0 2655.0,1151.0 2658.0,1151.0 2661.0,1151.0 2664.0,1151.0 2667.0,1151.0 2670.0,1151.0 2673.0,1151.0 2676.0,1151.0 2679.0,1151.0 2682.0,1151.0 2685.0,1151.0 2688.0,1151.0 2691.0,1151.0 2694.0,1151.0 2697.0,1151.0 2700.0,1151.0 2703.0,1151.0 2706.0,1151.0 2709.0,1151.0 2712.0,1151.0 2715.0,1151.0 2718.0,1151.0 2721.0,1151.0 2724.0,1151.0 2727.0,1151.0 2730.0,1151.0 2733.0,1151.0 2736.0,1151.0 2739.0,1151.0 2742.0,1151.0 2744.0,1151.0 L2744.0,1152 L72.0,1152 Z"/>
<path id="lM" d="M72.0,1151.0 75.0,1151.0 78.0,1151.0 81.0,1151.0 84.0,1151.0 87.0,1151.0 90.0,1151.0 93.0,1151.0 96.0,1151.0 99.0,1151.0 102.0,1151.0 105.0,1151.0 108.0,1151.0 111.0,1151.0 114.0,1151.0 117.0,1151.0 120.0,1151.0 123.0,1151.0 126.0,1151.0 129.0,1151.0 132.0,1151.0 135.0,1151.0 138.0,1151.0 141.0,1151.0 144.0,1151.0 147.0,1151.0 150.0,1151.0 153.0,1151.0 156.0,1151.0 159.0,1151.0 162.0,1151.0 165.0,1151.0 168.0,1151.0 171.0,1151.0 174.0,1151.0 177.0,1151.0 180.0,1151.0 183.0,1151.0 186.0,1151.0 189.0,1151.0 192.0,1151.0 195.0,1151.0 198.0,1151.0 201.0,1151.0 204.0,1151.0 207.0,1151.0 210.0,1151.0 213.0,1151.0 216.0,1151.0 219.0,1151.0 222.0,1151.0 225.0,1151.0 228.0,1151.0 231.0,1151.0 234.0,1151.0 237.0,1151.0 240.0,1151.0 243.0,1151.0 246.0,1151.0 249.0,1151.0 252.0,1151.0 255.0,1151.0 258.0,1151.0 261.0,1151.0 264.0,1151.0 267.0,1151.0 270.0,1151.0 273.0,1151.0 276.0,1151.0 279.0,1151.0 282.0,1151.0 285.0,1151.0 288.0,1151.0 291.0,1151.0 294.0,1151.0 297.0,1151.0 300.0,1151.0 303.0,1151.0 306.0,1151.0 309.0,1151.0 312.0,1151.0 315.0,1151.0 318.0,1151.0 321.0,1151.0 324.0,1151.0 327.0,1151.0 330.0,1151.0 333.0,1151.0 336.0,1151.0 339.0,1150.9 342.0,1150.9 345.0,1150.9 348.0,1150.9 351.0,1150.9 354.0,1150.9 357.0,1150.9 360.0,1150.9 363.0,1150.9 366.0,1150.9 369.0,1150.9 372.0,1150.9 375.0,1150.9 378.0,1150.9 381.0,1150.9 384.0,1150.9 387.0,1150.9 390.0,1150.9 393.0,1150.9 396.0,1150.9 399.0,1150.9 402.0,1150.8 405.0,1150.8 408.0,1150.8 411.0,1150.8 414.0,1150.8 417.0,1150.8 420.0,1150.8 423.0,1150.8 426.0,1150.8 429.0,1150.8 432.0,1150.7 435.0,1150.7 438.0,1150.7 441.0,1150.7 444.0,1150.7 447.0,1150.7 450.0,1150.7 453.0,1150.6 456.0,1150.6 459.0,1150.6 462.0,1150.6 465.0,1150.6 468.0,1150.5 471.0,1150.5 474.0,1150.5 477.0,1150.5 480.0,1150.5 483.0,1150.4 486.0,1150.4 489.0,1150.4 492.0,1150.3 495.0,1150.3 498.0,1150.3 501.0,1150.2 504.0,1150.2 507.0,1150.2 510.0,1150.1 513.0,1150.1 516.0,1150.1 519.0,1150.0 522.0,1150.0 525.0,1149.9 528.0,1149.9 531.0,1149.8 534.0,1149.8 537.0,1149.7 540.0,1149.7 543.0,1149.6 546.0,1149.5 549.0,1149.5 552.0,1149.4 555.0,1149.3 558.0,1149.3 561.0,1149.2 564.0,1149.1 567.0,1149.0 570.0,1148.9 573.0,1148.9 576.0,1148.8 579.0,1148.7 582.0,1148.6 585.0,1148.5 588.0,1148.4 591.0,1148.3 594.0,1148.1 597.0,1148.0 600.0,1147.9 603.0,1147.8 606.0,1147.6 609.0,1147.5 612.0,1147.4 615.0,1147.2 618.0,1147.1 621.0,1146.9 624.0,1146.7 627.0,1146.6 630.0,1146.4 633.0,1146.2 636.0,1146.0 639.0,1145.8 642.0,1145.6 645.0,1145.4 648.0,1145.2 651.0,1145.0 654.0,1144.8 657.0,1144.5 660.0,1144.3 663.0,1144.0 666.0,1143.7 669.0,1143.5 672.0,1143.2 675.0,1142.9 678.0,1142.6 681.0,1142.3 684.0,1142.0 687.0,1141.6 690.0,1141.3 693.0,1140.9 696.0,1140.6 699.0,1140.2 702.0,1139.8 705.0,1139.4 708.0,1139.0 711.0,1138.6 714.0,1138.1 717.0,1137.7 720.0,1137.2 723.0,1136.7 726.0,1136.2 729.0,1135.7 732.0,1135.2 735.0,1134.6 738.0,1134.1 741.0,1133.5 744.0,1132.9 747.0,1132.3 750.0,1131.7 753.0,1131.0 756.0,1130.4 759.0,1129.7 762.0,1129.0 765.0,1128.3 768.0,1127.5 771.0,1126.8 774.0,1126.0 777.0,1125.2 780.0,1124.3 783.0,1123.5 786.0,1122.6 789.0,1121.7 792.0,1120.8 795.0,1119.9 798.0,1118.9 801.0,1117.9 804.0,1116.9 807.0,1115.9 810.0,1114.8 813.0,1113.7 816.0,1112.6 819.0,1111.4 822.0,1110.2 825.0,1109.0 828.0,1107.8 831.0,1106.5 834.0,1105.3 837.0,1104.0 840.0,1102.6 843.0,1101.3 846.0,1099.9 849.0,1098.6 852.0,1097.2 855.0,1095.7 858.0,1094.3 861.0,1092.8 864.0,1091.3 867.0,1089.8 870.0,1088.3 873.0,1086.7 876.0,1085.1 879.0,1083.5 882.0,1081.9 885.0,1080.2 888.0,1078.5 891.0,1076.8 894.0,1075.0 897.0,1073.2 900.0,1071.4 903.0,1069.6 906.0,1067.7 909.0,1065.7 912.0,1063.8 915.0,1061.8 918.0,1059.7 921.0,1057.7 924.0,1055.5 927.0,1053.4 930.0,1051.2 933.0,1048.9 936.0,1046.6 939.0,1044.3 942.0,1041.9 945.0,1039.4 948.0,1036.9 951.0,1034.4 954.0,1031.8 957.0,1029.1 960.0,1026.4 963.0,1023.6 966.0,1020.8 969.0,1017.9 972.0,1014.9 975.0,1011.9 978.0,1008.8 981.0,1005.6 984.0,1002.4 987.0,999.1 990.0,995.7 993.0,992.3 996.0,988.9 999.0,985.3 1002.0,981.8 1005.0,978.2 1008.0,974.5 1011.0,970.8 1014.0,967.0 1017.0,963.2 1020.0,959.3 1023.0,955.4 1026.0,951.4 1029.0,947.4 1032.0,943.4 1035.0,939.3 1038.0,935.1 1041.0,930.9 1044.0,926.7 1047.0,922.4 1050.0,918.0 1053.0,913.6 1056.0,909.2 1059.0,904.7 1062.0,900.2 1065.0,895.7 1068.0,891.1 1071.0,886.4 1074.0,881.7 1077.0,877.0 1080.0,872.3 1083.0,867.5 1086.0,862.6 1089.0,857.7 1092.0,852.8 1095.0,847.9 1098.0,842.9 1101.0,837.9 1104.0,832.9 1107.0,827.8 1110.0,822.7 1113.0,817.5 1116.0,812.4 1119.0,807.2 1122.0,802.0 1125.0,796.8 1128.0,791.5 1131.0,786.2 1134.0,780.9 1137.0,775.6 1140.0,770.3 1143.0,765.0 1146.0,759.6 1149.0,754.2 1152.0,748.9 1155.0,743.5 1158.0,738.1 1161.0,732.7 1164.0,727.3 1167.0,721.9 1170.0,716.4 1173.0,711.0 1176.0,705.6 1179.0,700.2 1182.0,694.8 1185.0,689.4 1188.0,684.1 1191.0,678.7 1194.0,673.3 1197.0,668.0 1200.0,662.7 1203.0,657.4 1206.0,652.1 1209.0,646.8 1212.0,641.6 1215.0,636.4 1218.0,631.2 1221.0,626.1 1224.0,621.0 1227.0,615.9 1230.0,610.8 1233.0,605.8 1236.0,600.8 1239.0,595.9 1242.0,591.0 1245.0,586.2 1248.0,581.4 1251.0,576.7 1254.0,572.0 1257.0,567.3 1260.0,562.8 1263.0,558.2 1266.0,553.8 1269.0,549.4 1272.0,545.0 1275.0,540.7 1278.0,536.5 1281.0,532.4 1284.0,528.3 1287.0,524.3 1290.0,520.4 1293.0,516.5 1296.0,512.7 1299.0,509.0 1302.0,505.4 1305.0,501.9 1308.0,498.4 1311.0,495.1 1314.0,491.8 1317.0,488.6 1320.0,485.5 1323.0,482.5 1326.0,479.5 1329.0,476.7 1332.0,474.0 1335.0,471.3 1338.0,468.8 1341.0,466.3 1344.0,464.0 1347.0,461.7 1350.0,459.6 1353.0,457.5 1356.0,455.6 1359.0,453.7 1362.0,452.0 1365.0,450.4 1368.0,448.9 1371.0,447.4 1374.0,446.1 1377.0,444.9 1380.0,443.8 1383.0,442.9 1386.0,442.0 1389.0,441.2 1392.0,440.6 1395.0,440.0 1398.0,439.6 1401.0,439.3 1404.0,439.1 1407.0,439.0 1410.0,439.0 1413.0,439.2 1416.0,439.4 1419.0,439.8 1422.0,440.2 1425.0,440.8 1428.0,441.5 1431.0,442.3 1434.0,443.2 1437.0,444.2 1440.0,445.3 1443.0,446.6 1446.0,447.9 1449.0,449.4 1452.0,450.9 1455.0,452.6 1458.0,454.3 1461.0,456.2 1464.0,458.2 1467.0,460.3 1470.0,462.5 1473.0,464.7 1476.0,467.1 1479.0,469.6 1482.0,472.2 1485.0,474.9 1488.0,477.6 1491.0,480.5 1494.0,483.5 1497.0,486.5 1500.0,489.6 1503.0,492.9 1506.0,496.2 1509.0,499.6 1512.0,503.1 1515.0,506.6 1518.0,510.3 1521.0,514.0 1524.0,517.8 1527.0,521.7 1530.0,525.6 1533.0,529.7 1536.0,533.8 1539.0,537.9 1542.0,542.2 1545.0,546.5 1548.0,550.8 1551.0,555.2 1554.0,559.7 1557.0,564.3 1560.0,568.9 1563.0,573.5 1566.0,578.2 1569.0,583.0 1572.0,587.8 1575.0,592.7 1578.0,597.6 1581.0,602.5 1584.0,607.5 1587.0,612.5 1590.0,617.6 1593.0,622.7 1596.0,627.8 1599.0,632.9 1602.0,638.1 1605.0,643.4 1608.0,648.6 1611.0,653.9 1614.0,659.2 1617.0,664.5 1620.0,669.8 1623.0,675.1 1626.0,680.5 1629.0,685.9 1632.0,691.2 1635.0,696.6 1638.0,702.0 1641.0,707.4 1644.0,712.8 1647.0,718.2 1650.0,723.7 1653.0,729.1 1656.0,734.5 1659.0,739.9 1662.0,745.3 1665.0,750.6 1668.0,756.0 1671.0,761.4 1674.0,766.7 1677.0,772.1 1680.0,777.4 1683.0,782.7 1686.0,788.0 1689.0,793.3 1692.0,798.5 1695.0,803.7 1698.0,808.9 1701.0,814.1 1704.0,819.3 1707.0,824.4 1710.0,829.5 1713.0,834.5 1716.0,839.6 1719.0,844.6 1722.0,849.5 1725.0,854.5 1728.0,859.4 1731.0,864.2 1734.0,869.1 1737.0,873.9 1740.0,878.6 1743.0,883.3 1746.0,888.0 1749.0,892.6 1752.0,897.2 1755.0,901.7 1758.0,906.2 1761.0,910.7 1764.0,915.1 1767.0,919.5 1770.0,923.8 1773.0,928.1 1776.0,932.3 1779.0,936.5 1782.0,940.6 1785.0,944.7 1788.0,948.8 1791.0,952.8 1794.0,956.7 1797.0,960.6 1800.0,964.5 1803.0,968.3 1806.0,972.0 1809.0,975.7 1812.0,979.4 1815.0,983.0 1818.0,986.5 1821.0,990.0 1824.0,993.5 1827.0,996.9 1830.0,1000.2 1833.0,1003.5 1836.0,1006.7 1839.0,1009.8 1842.0,1012.9 1845.0,1015.9 1848.0,1018.9 1851.0,1021.7 1854.0,1024.6 1857.0,1027.3 1860.0,1030.0 1863.0,1032.7 1866.0,1035.2 1869.0,1037.8 1872.0,1040.3 1875.0,1042.7 1878.0,1045.1 1881.0,1047.4 1884.0,1049.7 1887.0,1051.9 1890.0,1054.1 1893.0,1056.3 1896.0,1058.4 1899.0,1060.4 1902.0,1062.5 1905.0,1064.4 1908.0,1066.4 1911.0,1068.3 1914.0,1070.2 1917.0,1072.0 1920.0,1073.8 1923.0,1075.6 1926.0,1077.4 1929.0,1079.1 1932.0,1080.8 1935.0,1082.4 1938.0,1084.1 1941.0,1085.7 1944.0,1087.3 1947.0,1088.8 1950.0,1090.3 1953.0,1091.8 1956.0,1093.3 1959.0,1094.8 1962.0,1096.2 1965.0,1097.6 1968.0,1099.0 1971.0,1100.4 1974.0,1101.7 1977.0,1103.1 1980.0,1104.4 1983.0,1105.7 1986.0,1107.0 1989.0,1108.2 1992.0,1109.4 1995.0,1110.6 1998.0,1111.8 2001.0,1113.0 2004.0,1114.1 2007.0,1115.2 2010.0,1116.2 2013.0,1117.2 2016.0,1118.3 2019.0,1119.2 2022.0,1120.2 2025.0,1121.1 2028.0,1122.0 2031.0,1122.9 2034.0,1123.8 2037.0,1124.6 2040.0,1125.4 2043.0,1126.2 2046.0,1127.0 2049.0,1127.8 2052.0,1128.5 2055.0,1129.2 2058.0,1129.9 2061.0,1130.6 2064.0,1131.2 2067.0,1131.9 2070.0,1132.5 2073.0,1133.1 2076.0,1133.7 2079.0,1134.3 2082.0,1134.8 2085.0,1135.4 2088.0,1135.9 2091.0,1136.4 2094.0,1136.9 2097.0,1137.4 2100.0,1137.8 2103.0,1138.3 2106.0,1138.7 2109.0,1139.1 2112.0,1139.5 2115.0,1139.9 2118.0,1140.3 2121.0,1140.7 2124.0,1141.0 2127.0,1141.4 2130.0,1141.7 2133.0,1142.1 2136.0,1142.4 2139.0,1142.7 2142.0,1143.0 2145.0,1143.3 2148.0,1143.6 2151.0,1143.8 2154.0,1144.1 2157.0,1144.3 2160.0,1144.6 2163.0,1144.8 2166.0,1145.1 2169.0,1145.3 2172.0,1145.5 2175.0,1145.7 2178.0,1145.9 2181.0,1146.1 2184.0,1146.3 2187.0,1146.5 2190.0,1146.6 2193.0,1146.8 2196.0,1147.0 2199.0,1147.1 2202.0,1147.3 2205.0,1147.4 2208.0,1147.6 2211.0,1147.7 2214.0,1147.8 2217.0,1147.9 2220.0,1148.1 2223.0,1148.2 2226.0,1148.3 2229.0,1148.4 2232.0,1148.5 2235.0,1148.6 2238.0,1148.7 2241.0,1148.8 2244.0,1148.9 2247.0,1149.0 2250.0,1149.1 2253.0,1149.1 2256.0,1149.2 2259.0,1149.3 2262.0,1149.4 2265.0,1149.4 2268.0,1149.5 2271.0,1149.6 2274.0,1149.6 2277.0,1149.7 2280.0,1149.7 2283.0,1149.8 2286.0,1149.8 2289.0,1149.9 2292.0,1149.9 2295.0,1150.0 2298.0,1150.0 2301.0,1150.1 2304.0,1150.1 2307.0,1150.2 2310.0,1150.2 2313.0,1150.2 2316.0,1150.3 2319.0,1150.3 2322.0,1150.3 2325.0,1150.4 2328.0,1150.4 2331.0,1150.4 2334.0,1150.4 2337.0,1150.5 2340.0,1150.5 2343.0,1150.5 2346.0,1150.5 2349.0,1150.6 2352.0,1150.6 2355.0,1150.6 2358.0,1150.6 2361.0,1150.6 2364.0,1150.6 2367.0,1150.7 2370.0,1150.7 2373.0,1150.7 2376.0,1150.7 2379.0,1150.7 2382.0,1150.7 2385.0,1150.7 2388.0,1150.8 2391.0,1150.8 2394.0,1150.8 2397.0,1150.8 2400.0,1150.8 2403.0,1150.8 2406.0,1150.8 2409.0,1150.8 2412.0,1150.8 2415.0,1150.8 2418.0,1150.9 2421.0,1150.9 2424.0,1150.9 2427.0,1150.9 2430.0,1150.9 2433.0,1150.9 2436.0,1150.9 2439.0,1150.9 2442.0,1150.9 2445.0,1150.9 2448.0,1150.9 2451.0,1150.9 2454.0,1150.9 2457.0,1150.9 2460.0,1150.9 2463.0,1150.9 2466.0,1150.9 2469.0,1150.9 2472.0,1150.9 2475.0,1150.9 2478.0,1150.9 2481.0,1151.0 2484.0,1151.0 2487.0,1151.0 2490.0,1151.0 2493.0,1151.0 2496.0,1151.0 2499.0,1151.0 2502.0,1151.0 2505.0,1151.0 2508.0,1151.0 2511.0,1151.0 2514.0,1151.0 2517.0,1151.0 2520.0,1151.0 2523.0,1151.0 2526.0,1151.0 2529.0,1151.0 2532.0,1151.0 2535.0,1151.0 2538.0,1151.0 2541.0,1151.0 2544.0,1151.0 2547.0,1151.0 2550.0,1151.0 2553.0,1151.0 2556.0,1151.0 2559.0,1151.0 2562.0,1151.0 2565.0,1151.0 2568.0,1151.0 2571.0,1151.0 2574.0,1151.0 2577.0,1151.0 2580.0,1151.0 2583.0,1151.0 2586.0,1151.0 2589.0,1151.0 2592.0,1151.0 2595.0,1151.0 2598.0,1151.0 2601.0,1151.0 2604.0,1151.0 2607.0,1151.0 2610.0,1151.0 2613.0,1151.0 2616.0,1151.0 2619.0,1151.0 2622.0,1151.0 2625.0,1151.0 2628.0,1151.0 2631.0,1151.0 2634.0,1151.0 2637.0,1151.0 2640.0,1151.0 2643.0,1151.0 2646.0,1151.0 2649.0,1151.0 2652.0,1151.0 2655.0,1151.0 2658.0,1151.0 2661.0,1151.0 2664.0,1151.0 2667.0,1151.0 2670.0,1151.0 2673.0,1151.0 2676.0,1151.0 2679.0,1151.0 2682.0,1151.0 2685.0,1151.0 2688.0,1151.0 2691.0,1151.0 2694.0,1151.0 2697.0,1151.0 2700.0,1151.0 2703.0,1151.0 2706.0,1151.0 2709.0,1151.0 2712.0,1151.0 2715.0,1151.0 2718.0,1151.0 2721.0,1151.0 2724.0,1151.0 2727.0,1151.0 2730.0,1151.0 2733.0,1151.0 2736.0,1151.0 2739.0,1151.0 2742.0,1151.0 2744.0,1151.0"/>
<clipPath id="cM"><use href="#aM"/></clipPath>
<path id="aL" d="M72.0,1151.0 75.0,1151.0 78.0,1151.0 81.0,1151.0 84.0,1151.0 87.0,1151.0 90.0,1151.0 93.0,1151.0 96.0,1151.0 99.0,1151.0 102.0,1151.0 105.0,1151.0 108.0,1151.0 111.0,1151.0 114.0,1151.0 117.0,1151.0 120.0,1151.0 123.0,1151.0 126.0,1151.0 129.0,1151.0 132.0,1151.0 135.0,1151.0 138.0,1151.0 141.0,1151.0 144.0,1151.0 147.0,1151.0 150.0,1151.0 153.0,1151.0 156.0,1151.0 159.0,1151.0 162.0,1151.0 165.0,1151.0 168.0,1151.0 171.0,1151.0 174.0,1151.0 177.0,1151.0 180.0,1151.0 183.0,1151.0 186.0,1151.0 189.0,1151.0 192.0,1151.0 195.0,1151.0 198.0,1151.0 201.0,1151.0 204.0,1151.0 207.0,1151.0 210.0,1151.0 213.0,1151.0 216.0,1151.0 219.0,1151.0 222.0,1151.0 225.0,1151.0 228.0,1151.0 231.0,1151.0 234.0,1151.0 237.0,1151.0 240.0,1151.0 243.0,1151.0 246.0,1151.0 249.0,1151.0 252.0,1151.0 255.0,1151.0 258.0,1151.0 261.0,1151.0 264.0,1151.0 267.0,1151.0 270.0,1151.0 273.0,1151.0 276.0,1151.0 279.0,1151.0 282.0,1151.0 285.0,1151.0 288.0,1151.0 291.0,1151.0 294.0,1151.0 297.0,1151.0 300.0,1151.0 303.0,1151.0 306.0,1151.0 309.0,1151.0 312.0,1151.0 315.0,1151.0 318.0,1151.0 321.0,1151.0 324.0,1151.0 327.0,1151.0 330.0,1151.0 333.0,1151.0 336.0,1151.0 339.0,1151.0 342.0,1151.0 345.0,1151.0 348.0,1151.0 351.0,1151.0 354.0,1151.0 357.0,1151.0 360.0,1151.0 363.0,1151.0 366.0,1151.0 369.0,1151.0 372.0,1151.0 375.0,1151.0 378.0,1151.0 381.0,1151.0 384.0,1151.0 387.0,1151.0 390.0,1151.0 393.0,1151.0 396.0,1151.0 399.0,1151.0 402.0,1151.0 405.0,1151.0 408.0,1151.0 411.0,1151.0 414.0,1151.0 417.0,1151.0 420.0,1151.0 423.0,1151.0 426.0,1151.0 429.0,1151.0 432.0,1151.0 435.0,1151.0 438.0,1151.0 441.0,1151.0 444.0,1151.0 447.0,1151.0 450.0,1151.0 453.0,1151.0 456.0,1151.0 459.0,1151.0 462.0,1151.0 465.0,1151.0 468.0,1151.0 471.0,1151.0 474.0,1151.0 477.0,1151.0 480.0,1151.0 483.0,1151.0 486.0,1151.0 489.0,1151.0 492.0,1151.0 495.0,1151.0 498.0,1151.0 501.0,1151.0 504.0,1151.0 507.0,1151.0 510.0,1151.0 513.0,1151.0 516.0,1151.0 519.0,1151.0 522.0,1151.0 525.0,1151.0 528.0,1151.0 531.0,1151.0 534.0,1151.0 537.0,1151.0 540.0,1151.0 543.0,1151.0 546.0,1151.0 549.0,1151.0 552.0,1151.0 555.0,1151.0 558.0,1151.0 561.0,1151.0 564.0,1151.0 567.0,1151.0 570.0,1151.0 573.0,1151.0 576.0,1151.0 579.0,1151.0 582.0,1151.0 585.0,1151.0 588.0,1151.0 591.0,1151.0 594.0,1151.0 597.0,1151.0 600.0,1151.0 603.0,1151.0 606.0,1151.0 609.0,1151.0 612.0,1151.0 615.0,1151.0 618.0,1151.0 621.0,1151.0 624.0,1151.0 627.0,1151.0 630.0,1151.0 633.0,1151.0 636.0,1151.0 639.0,1151.0 642.0,1151.0 645.0,1151.0 648.0,1151.0 651.0,1151.0 654.0,1151.0 657.0,1151.0 660.0,1151.0 663.0,1151.0 666.0,1151.0 669.0,1151.0 672.0,1151.0 675.0,1151.0 678.0,1151.0 681.0,1151.0 684.0,1151.0 687.0,1151.0 690.0,1151.0 693.0,1151.0 696.0,1151.0 699.0,1151.0 702.0,1151.0 705.0,1151.0 708.0,1151.0 711.0,1151.0 714.0,1151.0 717.0,1151.0 720.0,1151.0 723.0,1151.0 726.0,1151.0 729.0,1151.0 732.0,1151.0 735.0,1151.0 738.0,1151.0 741.0,1151.0 744.0,1151.0 747.0,1151.0 750.0,1151.0 753.0,1151.0 756.0,1151.0 759.0,1151.0 762.0,1151.0 765.0,1151.0 768.0,1151.0 771.0,1151.0 774.0,1151.0 777.0,1151.0 780.0,1151.0 783.0,1151.0 786.0,1151.0 789.0,1151.0 792.0,1151.0 795.0,1151.0 798.0,1151.0 801.0,1151.0 804.0,1151.0 807.0,1151.0 810.0,1151.0 813.0,1151.0 816.0,1151.0 819.0,1151.0 822.0,1151.0 825.0,1151.0 828.0,1151.0 831.0,1150.9 834.0,1150.9 837.0,1150.9 840.0,1150.9 843.0,1150.9 846.0,1150.9 849.0,1150.9 852.0,1150.9 855.0,1150.9 858.0,1150.9 861.0,1150.9 864.0,1150.9 867.0,1150.9 870.0,1150.9 873.0,1150.9 876.0,1150.9 879.0,1150.9 882.0,1150.9 885.0,1150.9 888.0,1150.9 891.0,1150.9 894.0,1150.8 897.0,1150.8 900.0,1150.8 903.0,1150.8 906.0,1150.8 909.0,1150.8 912.0,1150.8 915.0,1150.8 918.0,1150.8 921.0,1150.8 924.0,1150.7 927.0,1150.7 930.0,1150.7 933.0,1150.7 936.0,1150.7 939.0,1150.7 942.0,1150.7 945.0,1150.6 948.0,1150.6 951.0,1150.6 954.0,1150.6 957.0,1150.6 960.0,1150.6 963.0,1150.5 966.0,1150.5 969.0,1150.5 972.0,1150.5 975.0,1150.4 978.0,1150.4 981.0,1150.4 984.0,1150.4 987.0,1150.3 990.0,1150.3 993.0,1150.3 996.0,1150.2 999.0,1150.2 1002.0,1150.2 1005.0,1150.1 1008.0,1150.1 1011.0,1150.0 1014.0,1150.0 1017.0,1149.9 1020.0,1149.9 1023.0,1149.8 1026.0,1149.8 1029.0,1149.7 1032.0,1149.7 1035.0,1149.6 1038.0,1149.6 1041.0,1149.5 1044.0,1149.4 1047.0,1149.4 1050.0,1149.3 1053.0,1149.2 1056.0,1149.1 1059.0,1149.1 1062.0,1149.0 1065.0,1148.9 1068.0,1148.8 1071.0,1148.7 1074.0,1148.6 1077.0,1148.5 1080.0,1148.4 1083.0,1148.3 1086.0,1148.2 1089.0,1148.1 1092.0,1147.9 1095.0,1147.8 1098.0,1147.7 1101.0,1147.6 1104.0,1147.4 1107.0,1147.3 1110.0,1147.1 1113.0,1147.0 1116.0,1146.8 1119.0,1146.6 1122.0,1146.5 1125.0,1146.3 1128.0,1146.1 1131.0,1145.9 1134.0,1145.7 1137.0,1145.5 1140.0,1145.3 1143.0,1145.1 1146.0,1144.8 1149.0,1144.6 1152.0,1144.3 1155.0,1144.1 1158.0,1143.8 1161.0,1143.6 1164.0,1143.3 1167.0,1143.0 1170.0,1142.7 1173.0,1142.4 1176.0,1142.1 1179.0,1141.7 1182.0,1141.4 1185.0,1141.0 1188.0,1140.7 1191.0,1140.3 1194.0,1139.9 1197.0,1139.5 1200.0,1139.1 1203.0,1138.7 1206.0,1138.3 1209.0,1137.8 1212.0,1137.4 1215.0,1136.9 1218.0,1136.4 1221.0,1135.9 1224.0,1135.4 1227.0,1134.8 1230.0,1134.3 1233.0,1133.7 1236.0,1133.1 1239.0,1132.5 1242.0,1131.9 1245.0,1131.2 1248.0,1130.6 1251.0,1129.9 1254.0,1129.2 1257.0,1128.5 1260.0,1127.8 1263.0,1127.0 1266.0,1126.2 1269.0,1125.4 1272.0,1124.6 1275.0,1123.8 1278.0,1122.9 1281.0,1122.0 1284.0,1121.1 1287.0,1120.2 1290.0,1119.2 1293.0,1118.3 1296.0,1117.2 1299.0,1116.2 1302.0,1115.2 1305.0,1114.1 1308.0,1113.0 1311.0,1111.8 1314.0,1110.6 1317.0,1109.4 1320.0,1108.2 1323.0,1107.0 1326.0,1105.7 1329.0,1104.4 1332.0,1103.1 1335.0,1101.7 1338.0,1100.4 1341.0,1099.0 1344.0,1097.6 1347.0,1096.2 1350.0,1094.8 1353.0,1093.3 1356.0,1091.8 1359.0,1090.3 1362.0,1088.8 1365.0,1087.3 1368.0,1085.7 1371.0,1084.1 1374.0,1082.4 1377.0,1080.8 1380.0,1079.1 1383.0,1077.4 1386.0,1075.6 1389.0,1073.8 1392.0,1072.0 1395.0,1070.2 1398.0,1068.3 1401.0,1066.4 1404.0,1064.4 1407.0,1062.5 1410.0,1060.4 1413.0,1058.4 1416.0,1056.3 1419.0,1054.1 1422.0,1051.9 1425.0,1049.7 1428.0,1047.4 1431.0,1045.1 1434.0,1042.7 1437.0,1040.3 1440.0,1037.8 1443.0,1035.2 1446.0,1032.7 1449.0,1030.0 1452.0,1027.3 1455.0,1024.6 1458.0,1021.7 1461.0,1018.9 1464.0,1015.9 1467.0,1012.9 1470.0,1009.8 1473.0,1006.7 1476.0,1003.5 1479.0,1000.2 1482.0,996.9 1485.0,993.5 1488.0,990.0 1491.0,986.5 1494.0,983.0 1497.0,979.4 1500.0,975.7 1503.0,972.0 1506.0,968.3 1509.0,964.5 1512.0,960.6 1515.0,956.7 1518.0,952.8 1521.0,948.8 1524.0,944.7 1527.0,940.6 1530.0,936.5 1533.0,932.3 1536.0,928.1 1539.0,923.8 1542.0,919.5 1545.0,915.1 1548.0,910.7 1551.0,906.2 1554.0,901.7 1557.0,897.2 1560.0,892.6 1563.0,888.0 1566.0,883.3 1569.0,878.6 1572.0,873.9 1575.0,869.1 1578.0,864.2 1581.0,859.4 1584.0,854.5 1587.0,849.5 1590.0,844.6 1593.0,839.6 1596.0,834.5 1599.0,829.5 1602.0,824.4 1605.0,819.3 1608.0,814.1 1611.0,808.9 1614.0,803.7 1617.0,798.5 1620.0,793.3 1623.0,788.0 1626.0,782.7 1629.0,777.4 1632.0,772.1 1635.0,766.7 1638.0,761.4 1641.0,756.0 1644.0,750.6 1647.0,745.3 1650.0,739.9 1653.0,734.5 1656.0,729.1 1659.0,723.7 1662.0,718.2 1665.0,712.8 1668.0,707.4 1671.0,702.0 1674.0,696.6 1677.0,691.2 1680.0,685.9 1683.0,680.5 1686.0,675.1 1689.0,669.8 1692.0,664.5 1695.0,659.2 1698.0,653.9 1701.0,648.6 1704.0,643.4 1707.0,638.1 1710.0,632.9 1713.0,627.8 1716.0,622.7 1719.0,617.6 1722.0,612.5 1725.0,607.5 1728.0,602.5 1731.0,597.6 1734.0,592.7 1737.0,587.8 1740.0,583.0 1743.0,578.2 1746.0,573.5 1749.0,568.9 1752.0,564.3 1755.0,559.7 1758.0,555.2 1761.0,550.8 1764.0,546.5 1767.0,542.2 1770.0,537.9 1773.0,533.8 1776.0,529.7 1779.0,525.6 1782.0,521.7 1785.0,517.8 1788.0,514.0 1791.0,510.3 1794.0,506.6 1797.0,503.1 1800.0,499.6 1803.0,496.2 1806.0,492.9 1809.0,489.6 1812.0,486.5 1815.0,483.5 1818.0,480.5 1821.0,477.6 1824.0,474.9 1827.0,472.2 1830.0,469.6 1833.0,467.1 1836.0,464.7 1839.0,462.5 1842.0,460.3 1845.0,458.2 1848.0,456.2 1851.0,454.3 1854.0,452.6 1857.0,450.9 1860.0,449.4 1863.0,447.9 1866.0,446.6 1869.0,445.3 1872.0,444.2 1875.0,443.2 1878.0,442.3 1881.0,441.5 1884.0,440.8 1887.0,440.2 1890.0,439.8 1893.0,439.4 1896.0,439.2 1899.0,439.0 1902.0,439.0 1905.0,439.1 1908.0,439.3 1911.0,439.6 1914.0,440.0 1917.0,440.6 1920.0,441.2 1923.0,442.0 1926.0,442.9 1929.0,443.8 1932.0,444.9 1935.0,446.1 1938.0,447.4 1941.0,448.9 1944.0,450.4 1947.0,452.0 1950.0,453.7 1953.0,455.6 1956.0,457.5 1959.0,459.6 1962.0,461.7 1965.0,464.0 1968.0,466.3 1971.0,468.8 1974.0,471.3 1977.0,474.0 1980.0,476.7 1983.0,479.5 1986.0,482.5 1989.0,485.5 1992.0,488.6 1995.0,491.8 1998.0,495.1 2001.0,498.4 2004.0,501.9 2007.0,505.4 2010.0,509.0 2013.0,512.7 2016.0,516.5 2019.0,520.4 2022.0,524.3 2025.0,528.3 2028.0,532.4 2031.0,536.5 2034.0,540.7 2037.0,545.0 2040.0,549.4 2043.0,553.8 2046.0,558.2 2049.0,562.8 2052.0,567.3 2055.0,572.0 2058.0,576.7 2061.0,581.4 2064.0,586.2 2067.0,591.0 2070.0,595.9 2073.0,600.8 2076.0,605.8 2079.0,610.8 2082.0,615.9 2085.0,621.0 2088.0,626.1 2091.0,631.2 2094.0,636.4 2097.0,641.6 2100.0,646.8 2103.0,652.1 2106.0,657.4 2109.0,662.7 2112.0,668.0 2115.0,673.3 2118.0,678.7 2121.0,684.1 2124.0,689.4 2127.0,694.8 2130.0,700.2 2133.0,705.6 2136.0,711.0 2139.0,716.4 2142.0,721.9 2145.0,727.3 2148.0,732.7 2151.0,738.1 2154.0,743.5 2157.0,748.9 2160.0,754.2 2163.0,759.6 2166.0,765.0 2169.0,770.3 2172.0,775.6 2175.0,780.9 2178.0,786.2 2181.0,791.5 2184.0,796.8 2187.0,802.0 2190.0,807.2 2193.0,812.4 2196.0,817.5 2199.0,822.7 2202.0,827.8 2205.0,832.9 2208.0,837.9 2211.0,842.9 2214.0,847.9 2217.0,852.8 2220.0,857.7 2223.0,862.6 2226.0,867.5 2229.0,872.3 2232.0,877.0 2235.0,881.7 2238.0,886.4 2241.0,891.1 2244.0,895.7 2247.0,900.2 2250.0,904.7 2253.0,909.2 2256.0,913.6 2259.0,918.0 2262.0,922.4 2265.0,926.7 2268.0,930.9 2271.0,935.1 2274.0,939.3 2277.0,943.4 2280.0,947.4 2283.0,951.4 2286.0,955.4 2289.0,959.3 2292.0,963.2 2295.0,967.0 2298.0,970.8 2301.0,974.5 2304.0,978.2 2307.0,981.8 2310.0,985.3 2313.0,988.9 2316.0,992.3 2319.0,995.7 2322.0,999.1 2325.0,1002.4 2328.0,1005.6 2331.0,1008.8 2334.0,1011.9 2337.0,1014.9 2340.0,1017.9 2343.0,1020.8 2346.0,1023.6 2349.0,1026.4 2352.0,1029.1 2355.0,1031.8 2358.0,1034.4 2361.0,1036.9 2364.0,1039.4 2367.0,1041.9 2370.0,1044.3 2373.0,1046.6 2376.0,1048.9 2379.0,1051.2 2382.0,1053.4 2385.0,1055.5 2388.0,1057.7 2391.0,1059.7 2394.0,1061.8 2397.0,1063.8 2400.0,1065.7 2403.0,1067.7 2406.0,1069.6 2409.0,1071.4 2412.0,1073.2 2415.0,1075.0 2418.0,1076.8 2421.0,1078.5 2424.0,1080.2 2427.0,1081.9 2430.0,1083.5 2433.0,1085.1 2436.0,1086.7 2439.0,1088.3 2442.0,1089.8 2445.0,1091.3 2448.0,1092.8 2451.0,1094.3 2454.0,1095.7 2457.0,1097.2 2460.0,1098.6 2463.0,1099.9 2466.0,1101.3 2469.0,1102.6 2472.0,1104.0 2475.0,1105.3 2478.0,1106.5 2481.0,1107.8 2484.0,1109.0 2487.0,1110.2 2490.0,1111.4 2493.0,1112.6 2496.0,1113.7 2499.0,1114.8 2502.0,1115.9 2505.0,1116.9 2508.0,1117.9 2511.0,1118.9 2514.0,1119.9 2517.0,1120.8 2520.0,1121.7 2523.0,1122.6 2526.0,1123.5 2529.0,1124.3 2532.0,1125.2 2535.0,1126.0 2538.0,1126.8 2541.0,1127.5 2544.0,1128.3 2547.0,1129.0 2550.0,1129.7 2553.0,1130.4 2556.0,1131.0 2559.0,1131.7 2562.0,1132.3 2565.0,1132.9 2568.0,1133.5 2571.0,1134.1 2574.0,1134.6 2577.0,1135.2 2580.0,1135.7 2583.0,1136.2 2586.0,1136.7 2589.0,1137.2 2592.0,1137.7 2595.0,1138.1 2598.0,1138.6 2601.0,1139.0 2604.0,1139.4 2607.0,1139.8 2610.0,1140.2 2613.0,1140.6 2616.0,1140.9 2619.0,1141.3 2622.0,1141.6 2625.0,1142.0 2628.0,1142.3 2631.0,1142.6 2634.0,1142.9 2637.0,1143.2 2640.0,1143.5 2643.0,1143.7 2646.0,1144.0 2649.0,1144.3 2652.0,1144.5 2655.0,1144.8 2658.0,1145.0 2661.0,1145.2 2664.0,1145.4 2667.0,1145.6 2670.0,1145.8 2673.0,1146.0 2676.0,1146.2 2679.0,1146.4 2682.0,1146.6 2685.0,1146.7 2688.0,1146.9 2691.0,1147.1 2694.0,1147.2 2697.0,1147.4 2700.0,1147.5 2703.0,1147.6 2706.0,1147.8 2709.0,1147.9 2712.0,1148.0 2715.0,1148.1 2718.0,1148.3 2721.0,1148.4 2724.0,1148.5 2727.0,1148.6 2730.0,1148.7 2733.0,1148.8 2736.0,1148.9 2739.0,1148.9 2742.0,1149.0 2744.0,1149.1 L2744.0,1152 L72.0,1152 Z"/>
<path id="lL" d="M72.0,1151.0 75.0,1151.0 78.0,1151.0 81.0,1151.0 84.0,1151.0 87.0,1151.0 90.0,1151.0 93.0,1151.0 96.0,1151.0 99.0,1151.0 102.0,1151.0 105.0,1151.0 108.0,1151.0 111.0,1151.0 114.0,1151.0 117.0,1151.0 120.0,1151.0 123.0,1151.0 126.0,1151.0 129.0,1151.0 132.0,1151.0 135.0,1151.0 138.0,1151.0 141.0,1151.0 144.0,1151.0 147.0,1151.0 150.0,1151.0 153.0,1151.0 156.0,1151.0 159.0,1151.0 162.0,1151.0 165.0,1151.0 168.0,1151.0 171.0,1151.0 174.0,1151.0 177.0,1151.0 180.0,1151.0 183.0,1151.0 186.0,1151.0 189.0,1151.0 192.0,1151.0 195.0,1151.0 198.0,1151.0 201.0,1151.0 204.0,1151.0 207.0,1151.0 210.0,1151.0 213.0,1151.0 216.0,1151.0 219.0,1151.0 222.0,1151.0 225.0,1151.0 228.0,1151.0 231.0,1151.0 234.0,1151.0 237.0,1151.0 240.0,1151.0 243.0,1151.0 246.0,1151.0 249.0,1151.0 252.0,1151.0 255.0,1151.0 258.0,1151.0 261.0,1151.0 264.0,1151.0 267.0,1151.0 270.0,1151.0 273.0,1151.0 276.0,1151.0 279.0,1151.0 282.0,1151.0 285.0,1151.0 288.0,1151.0 291.0,1151.0 294.0,1151.0 297.0,1151.0 300.0,1151.0 303.0,1151.0 306.0,1151.0 309.0,1151.0 312.0,1151.0 315.0,1151.0 318.0,1151.0 321.0,1151.0 324.0,1151.0 327.0,1151.0 330.0,1151.0 333.0,1151.0 336.0,1151.0 339.0,1151.0 342.0,1151.0 345.0,1151.0 348.0,1151.0 351.0,1151.0 354.0,1151.0 357.0,1151.0 360.0,1151.0 363.0,1151.0 366.0,1151.0 369.0,1151.0 372.0,1151.0 375.0,1151.0 378.0,1151.0 381.0,1151.0 384.0,1151.0 387.0,1151.0 390.0,1151.0 393.0,1151.0 396.0,1151.0 399.0,1151.0 402.0,1151.0 405.0,1151.0 408.0,1151.0 411.0,1151.0 414.0,1151.0 417.0,1151.0 420.0,1151.0 423.0,1151.0 426.0,1151.0 429.0,1151.0 432.0,1151.0 435.0,1151.0 438.0,1151.0 441.0,1151.0 444.0,1151.0 447.0,1151.0 450.0,1151.0 453.0,1151.0 456.0,1151.0 459.0,1151.0 462.0,1151.0 465.0,1151.0 468.0,1151.0 471.0,1151.0 474.0,1151.0 477.0,1151.0 480.0,1151.0 483.0,1151.0 486.0,1151.0 489.0,1151.0 492.0,1151.0 495.0,1151.0 498.0,1151.0 501.0,1151.0 504.0,1151.0 507.0,1151.0 510.0,1151.0 513.0,1151.0 516.0,1151.0 519.0,1151.0 522.0,1151.0 525.0,1151.0 528.0,1151.0 531.0,1151.0 534.0,1151.0 537.0,1151.0 540.0,1151.0 543.0,1151.0 546.0,1151.0 549.0,1151.0 552.0,1151.0 555.0,1151.0 558.0,1151.0 561.0,1151.0 564.0,1151.0 567.0,1151.0 570.0,1151.0 573.0,1151.0 576.0,1151.0 579.0,1151.0 582.0,1151.0 585.0,1151.0 588.0,1151.0 591.0,1151.0 594.0,1151.0 597.0,1151.0 600.0,1151.0 603.0,1151.0 606.0,1151.0 609.0,1151.0 612.0,1151.0 615.0,1151.0 618.0,1151.0 621.0,1151.0 624.0,1151.0 627.0,1151.0 630.0,1151.0 633.0,1151.0 636.0,1151.0 639.0,1151.0 642.0,1151.0 645.0,1151.0 648.0,1151.0 651.0,1151.0 654.0,1151.0 657.0,1151.0 660.0,1151.0 663.0,1151.0 666.0,1151.0 669.0,1151.0 672.0,1151.0 675.0,1151.0 678.0,1151.0 681.0,1151.0 684.0,1151.0 687.0,1151.0 690.0,1151.0 693.0,1151.0 696.0,1151.0 699.0,1151.0 702.0,1151.0 705.0,1151.0 708.0,1151.0 711.0,1151.0 714.0,1151.0 717.0,1151.0 720.0,1151.0 723.0,1151.0 726.0,1151.0 729.0,1151.0 732.0,1151.0 735.0,1151.0 738.0,1151.0 741.0,1151.0 744.0,1151.0 747.0,1151.0 750.0,1151.0 753.0,1151.0 756.0,1151.0 759.0,1151.0 762.0,1151.0 765.0,1151.0 768.0,1151.0 771.0,1151.0 774.0,1151.0 777.0,1151.0 780.0,1151.0 783.0,1151.0 786.0,1151.0 789.0,1151.0 792.0,1151.0 795.0,1151.0 798.0,1151.0 801.0,1151.0 804.0,1151.0 807.0,1151.0 810.0,1151.0 813.0,1151.0 816.0,1151.0 819.0,1151.0 822.0,1151.0 825.0,1151.0 828.0,1151.0 831.0,1150.9 834.0,1150.9 837.0,1150.9 840.0,1150.9 843.0,1150.9 846.0,1150.9 849.0,1150.9 852.0,1150.9 855.0,1150.9 858.0,1150.9 861.0,1150.9 864.0,1150.9 867.0,1150.9 870.0,1150.9 873.0,1150.9 876.0,1150.9 879.0,1150.9 882.0,1150.9 885.0,1150.9 888.0,1150.9 891.0,1150.9 894.0,1150.8 897.0,1150.8 900.0,1150.8 903.0,1150.8 906.0,1150.8 909.0,1150.8 912.0,1150.8 915.0,1150.8 918.0,1150.8 921.0,1150.8 924.0,1150.7 927.0,1150.7 930.0,1150.7 933.0,1150.7 936.0,1150.7 939.0,1150.7 942.0,1150.7 945.0,1150.6 948.0,1150.6 951.0,1150.6 954.0,1150.6 957.0,1150.6 960.0,1150.6 963.0,1150.5 966.0,1150.5 969.0,1150.5 972.0,1150.5 975.0,1150.4 978.0,1150.4 981.0,1150.4 984.0,1150.4 987.0,1150.3 990.0,1150.3 993.0,1150.3 996.0,1150.2 999.0,1150.2 1002.0,1150.2 1005.0,1150.1 1008.0,1150.1 1011.0,1150.0 1014.0,1150.0 1017.0,1149.9 1020.0,1149.9 1023.0,1149.8 1026.0,1149.8 1029.0,1149.7 1032.0,1149.7 1035.0,1149.6 1038.0,1149.6 1041.0,1149.5 1044.0,1149.4 1047.0,1149.4 1050.0,1149.3 1053.0,1149.2 1056.0,1149.1 1059.0,1149.1 1062.0,1149.0 1065.0,1148.9 1068.0,1148.8 1071.0,1148.7 1074.0,1148.6 1077.0,1148.5 1080.0,1148.4 1083.0,1148.3 1086.0,1148.2 1089.0,1148.1 1092.0,1147.9 1095.0,1147.8 1098.0,1147.7 1101.0,1147.6 1104.0,1147.4 1107.0,1147.3 1110.0,1147.1 1113.0,1147.0 1116.0,1146.8 1119.0,1146.6 1122.0,1146.5 1125.0,1146.3 1128.0,1146.1 1131.0,1145.9 1134.0,1145.7 1137.0,1145.5 1140.0,1145.3 1143.0,1145.1 1146.0,1144.8 1149.0,1144.6 1152.0,1144.3 1155.0,1144.1 1158.0,1143.8 1161.0,1143.6 1164.0,1143.3 1167.0,1143.0 1170.0,1142.7 1173.0,1142.4 1176.0,1142.1 1179.0,1141.7 1182.0,1141.4 1185.0,1141.0 1188.0,1140.7 1191.0,1140.3 1194.0,1139.9 1197.0,1139.5 1200.0,1139.1 1203.0,1138.7 1206.0,1138.3 1209.0,1137.8 1212.0,1137.4 1215.0,1136.9 1218.0,1136.4 1221.0,1135.9 1224.0,1135.4 1227.0,1134.8 1230.0,1134.3 1233.0,1133.7 1236.0,1133.1 1239.0,1132.5 1242.0,1131.9 1245.0,1131.2 1248.0,1130.6 1251.0,1129.9 1254.0,1129.2 1257.0,1128.5 1260.0,1127.8 1263.0,1127.0 1266.0,1126.2 1269.0,1125.4 1272.0,1124.6 1275.0,1123.8 1278.0,1122.9 1281.0,1122.0 1284.0,1121.1 1287.0,1120.2 1290.0,1119.2 1293.0,1118.3 1296.0,1117.2 1299.0,1116.2 1302.0,1115.2 1305.0,1114.1 1308.0,1113.0 1311.0,1111.8 1314.0,1110.6 1317.0,1109.4 1320.0,1108.2 1323.0,1107.0 1326.0,1105.7 1329.0,1104.4 1332.0,1103.1 1335.0,1101.7 1338.0,1100.4 1341.0,1099.0 1344.0,1097.6 1347.0,1096.2 1350.0,1094.8 1353.0,1093.3 1356.0,1091.8 1359.0,1090.3 1362.0,1088.8 1365.0,1087.3 1368.0,1085.7 1371.0,1084.1 1374.0,1082.4 1377.0,1080.8 1380.0,1079.1 1383.0,1077.4 1386.0,1075.6 1389.0,1073.8 1392.0,1072.0 1395.0,1070.2 1398.0,1068.3 1401.0,1066.4 1404.0,1064.4 1407.0,1062.5 1410.0,1060.4 1413.0,1058.4 1416.0,1056.3 1419.0,1054.1 1422.0,1051.9 1425.0,1049.7 1428.0,1047.4 1431.0,1045.1 1434.0,1042.7 1437.0,1040.3 1440.0,1037.8 1443.0,1035.2 1446.0,1032.7 1449.0,1030.0 1452.0,1027.3 1455.0,1024.6 1458.0,1021.7 1461.0,1018.9 1464.0,1015.9 1467.0,1012.9 1470.0,1009.8 1473.0,1006.7 1476.0,1003.5 1479.0,1000.2 1482.0,996.9 1485.0,993.5 1488.0,990.0 1491.0,986.5 1494.0,983.0 1497.0,979.4 1500.0,975.7 1503.0,972.0 1506.0,968.3 1509.0,964.5 1512.0,960.6 1515.0,956.7 1518.0,952.8 1521.0,948.8 1524.0,944.7 1527.0,940.6 1530.0,936.5 1533.0,932.3 1536.0,928.1 1539.0,923.8 1542.0,919.5 1545.0,915.1 1548.0,910.7 1551.0,906.2 1554.0,901.7 1557.0,897.2 1560.0,892.6 1563.0,888.0 1566.0,883.3 1569.0,878.6 1572.0,873.9 1575.0,869.1 1578.0,864.2 1581.0,859.4 1584.0,854.5 1587.0,849.5 1590.0,844.6 1593.0,839.6 1596.0,834.5 1599.0,829.5 1602.0,824.4 1605.0,819.3 1608.0,814.1 1611.0,808.9 1614.0,803.7 1617.0,798.5 1620.0,793.3 1623.0,788.0 1626.0,782.7 1629.0,777.4 1632.0,772.1 1635.0,766.7 1638.0,761.4 1641.0,756.0 1644.0,750.6 1647.0,745.3 1650.0,739.9 1653.0,734.5 1656.0,729.1 1659.0,723.7 1662.0,718.2 1665.0,712.8 1668.0,707.4 1671.0,702.0 1674.0,696.6 1677.0,691.2 1680.0,685.9 1683.0,680.5 1686.0,675.1 1689.0,669.8 1692.0,664.5 1695.0,659.2 1698.0,653.9 1701.0,648.6 1704.0,643.4 1707.0,638.1 1710.0,632.9 1713.0,627.8 1716.0,622.7 1719.0,617.6 1722.0,612.5 1725.0,607.5 1728.0,602.5 1731.0,597.6 1734.0,592.7 1737.0,587.8 1740.0,583.0 1743.0,578.2 1746.0,573.5 1749.0,568.9 1752.0,564.3 1755.0,559.7 1758.0,555.2 1761.0,550.8 1764.0,546.5 1767.0,542.2 1770.0,537.9 1773.0,533.8 1776.0,529.7 1779.0,525.6 1782.0,521.7 1785.0,517.8 1788.0,514.0 1791.0,510.3 1794.0,506.6 1797.0,503.1 1800.0,499.6 1803.0,496.2 1806.0,492.9 1809.0,489.6 1812.0,486.5 1815.0,483.5 1818.0,480.5 1821.0,477.6 1824.0,474.9 1827.0,472.2 1830.0,469.6 1833.0,467.1 1836.0,464.7 1839.0,462.5 1842.0,460.3 1845.0,458.2 1848.0,456.2 1851.0,454.3 1854.0,452.6 1857.0,450.9 1860.0,449.4 1863.0,447.9 1866.0,446.6 1869.0,445.3 1872.0,444.2 1875.0,443.2 1878.0,442.3 1881.0,441.5 1884.0,440.8 1887.0,440.2 1890.0,439.8 1893.0,439.4 1896.0,439.2 1899.0,439.0 1902.0,439.0 1905.0,439.1 1908.0,439.3 1911.0,439.6 1914.0,440.0 1917.0,440.6 1920.0,441.2 1923.0,442.0 1926.0,442.9 1929.0,443.8 1932.0,444.9 1935.0,446.1 1938.0,447.4 1941.0,448.9 1944.0,450.4 1947.0,452.0 1950.0,453.7 1953.0,455.6 1956.0,457.5 1959.0,459.6 1962.0,461.7 1965.0,464.0 1968.0,466.3 1971.0,468.8 1974.0,471.3 1977.0,474.0 1980.0,476.7 1983.0,479.5 1986.0,482.5 1989.0,485.5 1992.0,488.6 1995.0,491.8 1998.0,495.1 2001.0,498.4 2004.0,501.9 2007.0,505.4 2010.0,509.0 2013.0,512.7 2016.0,516.5 2019.0,520.4 2022.0,524.3 2025.0,528.3 2028.0,532.4 2031.0,536.5 2034.0,540.7 2037.0,545.0 2040.0,549.4 2043.0,553.8 2046.0,558.2 2049.0,562.8 2052.0,567.3 2055.0,572.0 2058.0,576.7 2061.0,581.4 2064.0,586.2 2067.0,591.0 2070.0,595.9 2073.0,600.8 2076.0,605.8 2079.0,610.8 2082.0,615.9 2085.0,621.0 2088.0,626.1 2091.0,631.2 2094.0,636.4 2097.0,641.6 2100.0,646.8 2103.0,652.1 2106.0,657.4 2109.0,662.7 2112.0,668.0 2115.0,673.3 2118.0,678.7 2121.0,684.1 2124.0,689.4 2127.0,694.8 2130.0,700.2 2133.0,705.6 2136.0,711.0 2139.0,716.4 2142.0,721.9 2145.0,727.3 2148.0,732.7 2151.0,738.1 2154.0,743.5 2157.0,748.9 2160.0,754.2 2163.0,759.6 2166.0,765.0 2169.0,770.3 2172.0,775.6 2175.0,780.9 2178.0,786.2 2181.0,791.5 2184.0,796.8 2187.0,802.0 2190.0,807.2 2193.0,812.4 2196.0,817.5 2199.0,822.7 2202.0,827.8 2205.0,832.9 2208.0,837.9 2211.0,842.9 2214.0,847.9 2217.0,852.8 2220.0,857.7 2223.0,862.6 2226.0,867.5 2229.0,872.3 2232.0,877.0 2235.0,881.7 2238.0,886.4 2241.0,891.1 2244.0,895.7 2247.0,900.2 2250.0,904.7 2253.0,909.2 2256.0,913.6 2259.0,918.0 2262.0,922.4 2265.0,926.7 2268.0,930.9 2271.0,935.1 2274.0,939.3 2277.0,943.4 2280.0,947.4 2283.0,951.4 2286.0,955.4 2289.0,959.3 2292.0,963.2 2295.0,967.0 2298.0,970.8 2301.0,974.5 2304.0,978.2 2307.0,981.8 2310.0,985.3 2313.0,988.9 2316.0,992.3 2319.0,995.7 2322.0,999.1 2325.0,1002.4 2328.0,1005.6 2331.0,1008.8 2334.0,1011.9 2337.0,1014.9 2340.0,1017.9 2343.0,1020.8 2346.0,1023.6 2349.0,1026.4 2352.0,1029.1 2355.0,1031.8 2358.0,1034.4 2361.0,1036.9 2364.0,1039.4 2367.0,1041.9 2370.0,1044.3 2373.0,1046.6 2376.0,1048.9 2379.0,1051.2 2382.0,1053.4 2385.0,1055.5 2388.0,1057.7 2391.0,1059.7 2394.0,1061.8 2397.0,1063.8 2400.0,1065.7 2403.0,1067.7 2406.0,1069.6 2409.0,1071.4 2412.0,1073.2 2415.0,1075.0 2418.0,1076.8 2421.0,1078.5 2424.0,1080.2 2427.0,1081.9 2430.0,1083.5 2433.0,1085.1 2436.0,1086.7 2439.0,1088.3 2442.0,1089.8 2445.0,1091.3 2448.0,1092.8 2451.0,1094.3 2454.0,1095.7 2457.0,1097.2 2460.0,1098.6 2463.0,1099.9 2466.0,1101.3 2469.0,1102.6 2472.0,1104.0 2475.0,1105.3 2478.0,1106.5 2481.0,1107.8 2484.0,1109.0 2487.0,1110.2 2490.0,1111.4 2493.0,1112.6 2496.0,1113.7 2499.0,1114.8 2502.0,1115.9 2505.0,1116.9 2508.0,1117.9 2511.0,1118.9 2514.0,1119.9 2517.0,1120.8 2520.0,1121.7 2523.0,1122.6 2526.0,1123.5 2529.0,1124.3 2532.0,1125.2 2535.0,1126.0 2538.0,1126.8 2541.0,1127.5 2544.0,1128.3 2547.0,1129.0 2550.0,1129.7 2553.0,1130.4 2556.0,1131.0 2559.0,1131.7 2562.0,1132.3 2565.0,1132.9 2568.0,1133.5 2571.0,1134.1 2574.0,1134.6 2577.0,1135.2 2580.0,1135.7 2583.0,1136.2 2586.0,1136.7 2589.0,1137.2 2592.0,1137.7 2595.0,1138.1 2598.0,1138.6 2601.0,1139.0 2604.0,1139.4 2607.0,1139.8 2610.0,1140.2 2613.0,1140.6 2616.0,1140.9 2619.0,1141.3 2622.0,1141.6 2625.0,1142.0 2628.0,1142.3 2631.0,1142.6 2634.0,1142.9 2637.0,1143.2 2640.0,1143.5 2643.0,1143.7 2646.0,1144.0 2649.0,1144.3 2652.0,1144.5 2655.0,1144.8 2658.0,1145.0 2661.0,1145.2 2664.0,1145.4 2667.0,1145.6 2670.0,1145.8 2673.0,1146.0 2676.0,1146.2 2679.0,1146.4 2682.0,1146.6 2685.0,1146.7 2688.0,1146.9 2691.0,1147.1 2694.0,1147.2 2697.0,1147.4 2700.0,1147.5 2703.0,1147.6 2706.0,1147.8 2709.0,1147.9 2712.0,1148.0 2715.0,1148.1 2718.0,1148.3 2721.0,1148.4 2724.0,1148.5 2727.0,1148.6 2730.0,1148.7 2733.0,1148.8 2736.0,1148.9 2739.0,1148.9 2742.0,1149.0 2744.0,1149.1"/>
<clipPath id="cL"><use href="#aL"/></clipPath>
<linearGradient id="gS" x1="0" x2="2816" y1="0" y2="0" gradientUnits="userSpaceOnUse"><stop offset="0.0256" stop-color="#d8c4e6"/><stop offset="0.3249" stop-color="#e0d0ec"/><stop offset="0.5000" stop-color="#e2d5ee"/></linearGradient>
<linearGradient id="gM" x1="0" x2="2816" y1="0" y2="0" gradientUnits="userSpaceOnUse"><stop offset="0.1420" stop-color="#b290ca"/><stop offset="0.5000" stop-color="#b08ec8"/><stop offset="0.8523" stop-color="#a888c2"/></linearGradient>
<linearGradient id="gSM" x1="0" x2="2816" y1="0" y2="0" gradientUnits="userSpaceOnUse"><stop offset="0.2486" stop-color="#b48ecc"/><stop offset="0.4119" stop-color="#b997cd"/><stop offset="0.5000" stop-color="#bd9dd1"/></linearGradient>
<linearGradient id="gL" x1="0" x2="2816" y1="0" y2="0" gradientUnits="userSpaceOnUse"><stop offset="0.4972" stop-color="#7a4e9c"/><stop offset="0.6037" stop-color="#6c4894"/><stop offset="0.6751" stop-color="#5f428c"/><stop offset="0.7457" stop-color="#4f3682"/><stop offset="0.8168" stop-color="#3e2872"/><stop offset="0.9744" stop-color="#2a1a5a"/></linearGradient>
<linearGradient id="gML" x1="0" x2="2816" y1="0" y2="0" gradientUnits="userSpaceOnUse"><stop offset="0.4616" stop-color="#7a3aa6"/><stop offset="0.5327" stop-color="#7238a0"/><stop offset="0.6037" stop-color="#68349a"/><stop offset="0.6747" stop-color="#5c3294"/><stop offset="0.7812" stop-color="#4a2c84"/><stop offset="0.8878" stop-color="#3e2470"/></linearGradient>
<linearGradient id="gSML" x1="0" x2="2816" y1="0" y2="0" gradientUnits="userSpaceOnUse"><stop offset="0.3551" stop-color="#8f6eae"/><stop offset="0.5000" stop-color="#8e6cac"/><stop offset="0.6747" stop-color="#7c58a4"/></linearGradient>
<linearGradient id="sS" x1="0" x2="2816" y1="0" y2="0" gradientUnits="userSpaceOnUse"><stop offset="0.0256" stop-color="#b898d4"/><stop offset="0.3906" stop-color="#c4a6dc"/><stop offset="0.4972" stop-color="#c8a8de"/><stop offset="0.6037" stop-color="#c4a4de"/><stop offset="0.6925" stop-color="#a080c8" stop-opacity="0"/></linearGradient>
<linearGradient id="sM" x1="0" x2="2816" y1="0" y2="0" gradientUnits="userSpaceOnUse"><stop offset="0.1491" stop-color="#8450b0" stop-opacity="0"/><stop offset="0.2202" stop-color="#7646aa"/><stop offset="0.5000" stop-color="#7a4cb4"/><stop offset="0.5895" stop-color="#7a4cb4"/><stop offset="0.6392" stop-color="#6c40a4"/><stop offset="0.7635" stop-color="#5a3498"/><stop offset="0.8452" stop-color="#4a2890" stop-opacity="0"/></linearGradient>
<linearGradient id="sML" x1="0" x2="2816" y1="0" y2="0" gradientUnits="userSpaceOnUse"><stop offset="0.5682" stop-color="#5c32a2"/><stop offset="0.6747" stop-color="#56309c"/><stop offset="0.7635" stop-color="#4a2a8c"/><stop offset="0.8452" stop-color="#40247c" stop-opacity="0"/></linearGradient>
<linearGradient id="sL" x1="0" x2="2816" y1="0" y2="0" gradientUnits="userSpaceOnUse"><stop offset="0.3480" stop-color="#5c36a2" stop-opacity="0"/><stop offset="0.4084" stop-color="#5832a0"/><stop offset="0.4972" stop-color="#4e2c98"/><stop offset="0.5043" stop-color="#3c1e82"/><stop offset="0.5859" stop-color="#30167a"/><stop offset="0.6751" stop-color="#2a1462"/><stop offset="0.9744" stop-color="#1e0e48"/></linearGradient>
</defs>
<rect width="2816" height="1536" fill="#fdfdfd"/>
<use href="#aS" fill="url(#gS)"/>
<use href="#aM" fill="url(#gM)"/>
<use href="#aM" fill="url(#gSM)" clip-path="url(#cS)"/>
<use href="#aL" fill="url(#gL)"/>
<use href="#aL" fill="url(#gML)" clip-path="url(#cM)"/>
<g clip-path="url(#cS)"><use href="#aL" fill="url(#gSML)" clip-path="url(#cM)"/></g>
<use href="#lM" fill="none" stroke="url(#sM)" stroke-width="7.0"/>
<use href="#lM" fill="none" stroke="url(#sML)" stroke-width="7.0" clip-path="url(#cL)"/>
<use href="#lL" fill="none" stroke="url(#sL)" stroke-width="7.0"/>
<use href="#lS" fill="none" stroke="url(#sS)" stroke-width="7.0"/>
<rect x="912.0" y="439.0" width="6.0" height="711.0" fill="#bca0d0"/>
<rect x="1405.0" y="439.0" width="6.0" height="711.0" fill="#764ca6"/>
<rect x="1898.0" y="439.0" width="6.0" height="711.0" fill="#2c1666"/>
<rect x="72" y="1149.5" width="2672" height="4.5" rx="2" fill="#130b1a"/>
<line x1="915.5" y1="1152" x2="915.5" y2="1171" stroke="#1a1a1a" stroke-width="4.3" stroke-linecap="round"/>
<line x1="1408.3" y1="1152" x2="1408.3" y2="1171" stroke="#1a1a1a" stroke-width="4.3" stroke-linecap="round"/>
<line x1="1900.6" y1="1152" x2="1900.6" y2="1171" stroke="#1a1a1a" stroke-width="4.3" stroke-linecap="round"/>
<g font-family="'Liberation Sans', 'DejaVu Sans', sans-serif" fill="#141414" text-anchor="middle">
<text y="143.5" font-size="95" text-anchor="start"><tspan x="682.4" textLength="341.6" lengthAdjust="spacingAndGlyphs">Cohen's</tspan> <tspan x="1054.3" textLength="48.4" lengthAdjust="spacingAndGlyphs">d</tspan> <tspan x="1130.4" textLength="242.0" lengthAdjust="spacingAndGlyphs">Effect</tspan> <tspan x="1397.9" textLength="169.6" lengthAdjust="spacingAndGlyphs">Size</tspan> <tspan x="1598.3" textLength="538.8" lengthAdjust="spacingAndGlyphs">Visualization</tspan></text>
<text y="335.3" font-size="62" text-anchor="start"><tspan x="766.9" textLength="153.5" lengthAdjust="spacingAndGlyphs">Small</tspan> <tspan x="937.2" textLength="157.2" lengthAdjust="spacingAndGlyphs">Effect</tspan></text>
<text id="t_small2" x="929.9" y="403.3" font-size="62" textLength="192.3" lengthAdjust="spacingAndGlyphs">(d=0.2)</text>
<text y="335.3" font-size="62" text-anchor="start"><tspan x="1201.3" textLength="235.6" lengthAdjust="spacingAndGlyphs">Medium</tspan> <tspan x="1453.7" textLength="158.6" lengthAdjust="spacingAndGlyphs">Effect</tspan></text>
<text id="t_med2" x="1407.7" y="403.3" font-size="62" textLength="199.4" lengthAdjust="spacingAndGlyphs">(d=0.5)</text>
<text y="335.3" font-size="62" text-anchor="start"><tspan x="1733.9" textLength="158.5" lengthAdjust="spacingAndGlyphs">Large</tspan> <tspan x="1909.2" textLength="157.8" lengthAdjust="spacingAndGlyphs">Effect</tspan></text>
<text id="t_large2" x="1900.6" y="403.3" font-size="62" textLength="200.9" lengthAdjust="spacingAndGlyphs">(d=0.8)</text>
<text id="t_tick02" x="916.3" y="1236.5" font-size="64" textLength="121.9" lengthAdjust="spacingAndGlyphs">0.2σ</text>
<text id="t_tick05" x="1408.0" y="1236.5" font-size="64" textLength="120.9" lengthAdjust="spacingAndGlyphs">0.5σ</text>
<text id="t_tick08" x="1900.9" y="1236.5" font-size="64" textLength="120.6" lengthAdjust="spacingAndGlyphs">0.8σ</text>
<text y="1330.6" font-size="62.5" text-anchor="start"><tspan x="1123.5" textLength="257.1" lengthAdjust="spacingAndGlyphs">Standard</tspan> <tspan x="1395.7" textLength="296.9" lengthAdjust="spacingAndGlyphs">Deviations</tspan></text>
<text y="1439.2" font-size="63" text-anchor="start"><tspan x="763.4" textLength="36.4" lengthAdjust="spacingAndGlyphs">d</tspan> <tspan x="817.2" textLength="33.4" lengthAdjust="spacingAndGlyphs">=</tspan> <tspan x="867.4" textLength="105.1" lengthAdjust="spacingAndGlyphs">0.2:</tspan> <tspan x="985.7" textLength="176.1" lengthAdjust="spacingAndGlyphs">Small,</tspan> <tspan x="1176.0" textLength="35.0" lengthAdjust="spacingAndGlyphs">d</tspan> <tspan x="1229.8" textLength="32.9" lengthAdjust="spacingAndGlyphs">=</tspan> <tspan x="1280.5" textLength="104.1" lengthAdjust="spacingAndGlyphs">0.5:</tspan> <tspan x="1397.5" textLength="256.9" lengthAdjust="spacingAndGlyphs">Medium,</tspan> <tspan x="1667.8" textLength="37.5" lengthAdjust="spacingAndGlyphs">d</tspan> <tspan x="1723.1" textLength="32.3" lengthAdjust="spacingAndGlyphs">=</tspan> <tspan x="1774.2" textLength="103.0" lengthAdjust="spacingAndGlyphs">0.8:</tspan> <tspan x="1891.9" textLength="161.8" lengthAdjust="spacingAndGlyphs">Large</tspan></text>
</g>
</svg>
</body></html>
